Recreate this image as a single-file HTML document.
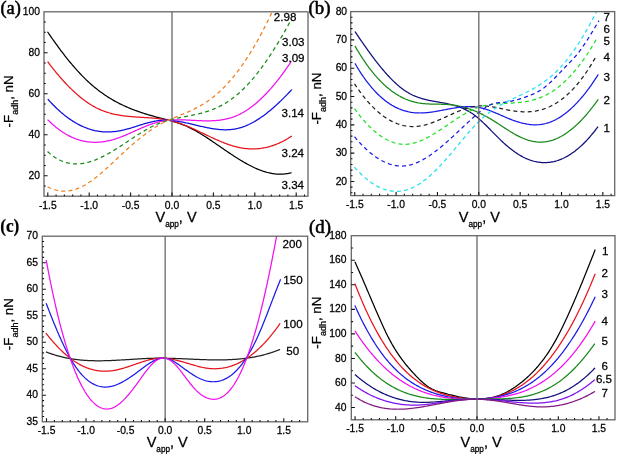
<!DOCTYPE html>
<html><head><meta charset="utf-8"><style>
html,body{margin:0;padding:0;background:#fff;width:617px;height:454px;overflow:hidden}
svg{display:block;will-change:transform}
text{font-family:"Liberation Sans",sans-serif;fill:#000;stroke:#000;stroke-width:0.26px}
.tl{font-size:10.3px}
.cl{font-size:11.6px}
.aty{font-size:13.3px}
.atx{font-size:14.5px}
.sub{font-size:9px}
.subx{font-size:8.2px}
.pl{font-family:"Liberation Serif",serif;font-size:18.5px;stroke-width:0.55px}
</style></head><body>
<svg width="617" height="454" viewBox="0 0 617 454">
<rect width="617" height="454" fill="#fff"/>
<clipPath id="cpa"><rect x="44" y="11.8" width="264" height="184.4"/></clipPath>
<g clip-path="url(#cpa)" fill="none" stroke-width="1.25" stroke-linejoin="round">
<path d="M47.5 31.77 48.5 33.24 49.5 34.69 50.5 36.14 51.5 37.58 52.5 39.00 53.5 40.42 54.5 41.82 55.5 43.22 56.5 44.60 57.5 45.98 58.5 47.34 59.5 48.69 60.5 50.03 61.5 51.35 62.5 52.67 63.5 53.97 64.5 55.26 65.5 56.54 66.5 57.80 67.5 59.05 68.5 60.29 69.5 61.52 70.5 62.73 71.5 63.93 72.5 65.11 73.5 66.28 74.5 67.43 75.5 68.57 76.5 69.70 77.5 70.81 78.5 71.90 79.5 72.98 80.5 74.04 81.5 75.09 82.5 76.12 83.5 77.14 84.5 78.14 85.5 79.12 86.5 80.09 87.5 81.03 88.5 81.97 89.5 82.88 90.5 83.78 91.5 84.66 92.5 85.53 93.5 86.37 94.5 87.21 95.5 88.03 96.5 88.83 97.5 89.62 98.5 90.39 99.5 91.15 100.5 91.89 101.5 92.62 102.5 93.34 103.5 94.04 104.5 94.73 105.5 95.41 106.5 96.07 107.5 96.72 108.5 97.35 109.5 97.98 110.5 98.59 111.5 99.19 112.5 99.77 113.5 100.35 114.5 100.91 115.5 101.47 116.5 102.01 117.5 102.54 118.5 103.06 119.5 103.57 120.5 104.07 121.5 104.56 122.5 105.04 123.5 105.51 124.5 105.97 125.5 106.42 126.5 106.87 127.5 107.30 128.5 107.73 129.5 108.14 130.5 108.55 131.5 108.96 132.5 109.35 133.5 109.74 134.5 110.11 135.5 110.49 136.5 110.85 137.5 111.21 138.5 111.56 139.5 111.91 140.5 112.25 141.5 112.58 142.5 112.91 143.5 113.24 144.5 113.55 145.5 113.87 146.5 114.18 147.5 114.48 148.5 114.78 149.5 115.08 150.5 115.37 151.5 115.66 152.5 115.94 153.5 116.22 154.5 116.50 155.5 116.78 156.5 117.05 157.5 117.32 158.5 117.59 159.5 117.86 160.5 118.12 161.5 118.39 162.5 118.65 163.5 118.91 164.5 119.17 165.5 119.43 166.5 119.69 167.5 119.96 168.5 120.22 169.5 120.49 170.5 120.76 171.5 121.04 172.5 121.32 173.5 121.61 174.5 121.90 175.5 122.21 176.5 122.51 177.5 122.83 178.5 123.16 179.5 123.50 180.5 123.85 181.5 124.21 182.5 124.58 183.5 124.96 184.5 125.36 185.5 125.78 186.5 126.21 187.5 126.65 188.5 127.11 189.5 127.59 190.5 128.08 191.5 128.58 192.5 129.10 193.5 129.63 194.5 130.17 195.5 130.73 196.5 131.30 197.5 131.87 198.5 132.46 199.5 133.06 200.5 133.67 201.5 134.29 202.5 134.91 203.5 135.54 204.5 136.18 205.5 136.83 206.5 137.48 207.5 138.14 208.5 138.80 209.5 139.46 210.5 140.13 211.5 140.81 212.5 141.48 213.5 142.16 214.5 142.85 215.5 143.53 216.5 144.22 217.5 144.90 218.5 145.59 219.5 146.28 220.5 146.97 221.5 147.66 222.5 148.34 223.5 149.03 224.5 149.71 225.5 150.40 226.5 151.08 227.5 151.76 228.5 152.43 229.5 153.11 230.5 153.77 231.5 154.44 232.5 155.10 233.5 155.76 234.5 156.41 235.5 157.05 236.5 157.69 237.5 158.32 238.5 158.95 239.5 159.57 240.5 160.18 241.5 160.78 242.5 161.38 243.5 161.97 244.5 162.54 245.5 163.11 246.5 163.67 247.5 164.22 248.5 164.76 249.5 165.29 250.5 165.80 251.5 166.31 252.5 166.80 253.5 167.28 254.5 167.75 255.5 168.20 256.5 168.64 257.5 169.07 258.5 169.48 259.5 169.88 260.5 170.26 261.5 170.63 262.5 170.98 263.5 171.32 264.5 171.64 265.5 171.94 266.5 172.23 267.5 172.50 268.5 172.75 269.5 172.98 270.5 173.19 271.5 173.38 272.5 173.56 273.5 173.71 274.5 173.84 275.5 173.96 276.5 174.05 277.5 174.12 278.5 174.17 279.5 174.19 280.5 174.20 281.5 174.18 282.5 174.13 283.5 174.07 284.5 173.98 285.5 173.86 286.5 173.72 287.5 173.56 288.5 173.37 289.5 173.15 290.5 172.91 291.5 172.64 291.6 172.61" stroke="#000000"/>
<path d="M47.6 61.63 48.6 62.96 49.6 64.27 50.6 65.57 51.6 66.86 52.6 68.13 53.6 69.39 54.6 70.63 55.6 71.86 56.6 73.07 57.6 74.27 58.6 75.46 59.6 76.62 60.6 77.78 61.6 78.91 62.6 80.03 63.6 81.14 64.6 82.23 65.6 83.30 66.6 84.36 67.6 85.40 68.6 86.43 69.6 87.44 70.6 88.43 71.6 89.41 72.6 90.36 73.6 91.31 74.6 92.23 75.6 93.14 76.6 94.03 77.6 94.90 78.6 95.75 79.6 96.59 80.6 97.41 81.6 98.21 82.6 98.99 83.6 99.75 84.6 100.50 85.6 101.23 86.6 101.94 87.6 102.63 88.6 103.30 89.6 103.95 90.6 104.58 91.6 105.19 92.6 105.79 93.6 106.36 94.6 106.91 95.6 107.45 96.6 107.96 97.6 108.46 98.6 108.93 99.6 109.39 100.6 109.83 101.6 110.25 102.6 110.65 103.6 111.04 104.6 111.41 105.6 111.76 106.6 112.10 107.6 112.42 108.6 112.73 109.6 113.02 110.6 113.30 111.6 113.56 112.6 113.81 113.6 114.05 114.6 114.28 115.6 114.49 116.6 114.69 117.6 114.89 118.6 115.07 119.6 115.24 120.6 115.40 121.6 115.55 122.6 115.70 123.6 115.83 124.6 115.96 125.6 116.08 126.6 116.19 127.6 116.30 128.6 116.40 129.6 116.49 130.6 116.58 131.6 116.67 132.6 116.74 133.6 116.82 134.6 116.89 135.6 116.96 136.6 117.03 137.6 117.09 138.6 117.15 139.6 117.21 140.6 117.27 141.6 117.33 142.6 117.39 143.6 117.45 144.6 117.51 145.6 117.57 146.6 117.63 147.6 117.69 148.6 117.76 149.6 117.83 150.6 117.90 151.6 117.98 152.6 118.06 153.6 118.15 154.6 118.24 155.6 118.34 156.6 118.44 157.6 118.55 158.6 118.66 159.6 118.79 160.6 118.92 161.6 119.06 162.6 119.20 163.6 119.36 164.6 119.53 165.6 119.70 166.6 119.89 167.6 120.09 168.6 120.29 169.6 120.51 170.6 120.74 171.6 120.99 172.6 121.24 173.6 121.51 174.6 121.78 175.6 122.07 176.6 122.36 177.6 122.67 178.6 122.99 179.6 123.32 180.6 123.66 181.6 124.01 182.6 124.37 183.6 124.74 184.6 125.11 185.6 125.50 186.6 125.90 187.6 126.31 188.6 126.73 189.6 127.15 190.6 127.58 191.6 128.03 192.6 128.47 193.6 128.93 194.6 129.38 195.6 129.85 196.6 130.32 197.6 130.79 198.6 131.26 199.6 131.74 200.6 132.22 201.6 132.70 202.6 133.18 203.6 133.66 204.6 134.14 205.6 134.62 206.6 135.10 207.6 135.58 208.6 136.06 209.6 136.53 210.6 137.00 211.6 137.47 212.6 137.93 213.6 138.39 214.6 138.85 215.6 139.30 216.6 139.75 217.6 140.19 218.6 140.62 219.6 141.05 220.6 141.47 221.6 141.89 222.6 142.29 223.6 142.69 224.6 143.08 225.6 143.46 226.6 143.83 227.6 144.19 228.6 144.54 229.6 144.88 230.6 145.21 231.6 145.52 232.6 145.83 233.6 146.12 234.6 146.40 235.6 146.66 236.6 146.91 237.6 147.15 238.6 147.37 239.6 147.58 240.6 147.77 241.6 147.95 242.6 148.11 243.6 148.26 244.6 148.39 245.6 148.51 246.6 148.61 247.6 148.70 248.6 148.77 249.6 148.82 250.6 148.86 251.6 148.89 252.6 148.90 253.6 148.89 254.6 148.86 255.6 148.82 256.6 148.77 257.6 148.70 258.6 148.61 259.6 148.51 260.6 148.38 261.6 148.25 262.6 148.09 263.6 147.92 264.6 147.74 265.6 147.53 266.6 147.31 267.6 147.08 268.6 146.82 269.6 146.55 270.6 146.26 271.6 145.96 272.6 145.64 273.6 145.30 274.6 144.94 275.6 144.56 276.6 144.17 277.6 143.76 278.6 143.34 279.6 142.89 280.6 142.43 281.6 141.95 282.6 141.45 283.6 140.93 284.6 140.40 285.6 139.85 286.6 139.27 287.6 138.68 288.6 138.08 289.6 137.45 290.6 136.81 291.6 136.14 291.8 136.01" stroke="#e8141c"/>
<path d="M47.8 99.14 48.8 100.26 49.8 101.35 50.8 102.43 51.8 103.49 52.8 104.52 53.8 105.54 54.8 106.54 55.8 107.51 56.8 108.47 57.8 109.41 58.8 110.33 59.8 111.22 60.8 112.10 61.8 112.96 62.8 113.80 63.8 114.62 64.8 115.42 65.8 116.20 66.8 116.96 67.8 117.70 68.8 118.43 69.8 119.13 70.8 119.81 71.8 120.48 72.8 121.13 73.8 121.75 74.8 122.36 75.8 122.95 76.8 123.52 77.8 124.07 78.8 124.60 79.8 125.11 80.8 125.60 81.8 126.08 82.8 126.54 83.8 126.97 84.8 127.39 85.8 127.79 86.8 128.17 87.8 128.54 88.8 128.88 89.8 129.21 90.8 129.51 91.8 129.80 92.8 130.07 93.8 130.32 94.8 130.56 95.8 130.77 96.8 130.97 97.8 131.15 98.8 131.31 99.8 131.45 100.8 131.58 101.8 131.68 102.8 131.77 103.8 131.84 104.8 131.90 105.8 131.93 106.8 131.95 107.8 131.95 108.8 131.94 109.8 131.91 110.8 131.86 111.8 131.80 112.8 131.72 113.8 131.63 114.8 131.52 115.8 131.40 116.8 131.26 117.8 131.11 118.8 130.94 119.8 130.77 120.8 130.58 121.8 130.37 122.8 130.15 123.8 129.93 124.8 129.68 125.8 129.43 126.8 129.17 127.8 128.90 128.8 128.61 129.8 128.32 130.8 128.03 131.8 127.73 132.8 127.42 133.8 127.11 134.8 126.79 135.8 126.48 136.8 126.16 137.8 125.84 138.8 125.52 139.8 125.20 140.8 124.88 141.8 124.57 142.8 124.26 143.8 123.96 144.8 123.66 145.8 123.37 146.8 123.08 147.8 122.81 148.8 122.54 149.8 122.28 150.8 122.04 151.8 121.80 152.8 121.58 153.8 121.38 154.8 121.18 155.8 121.01 156.8 120.85 157.8 120.70 158.8 120.58 159.8 120.47 160.8 120.39 161.8 120.32 162.8 120.27 163.8 120.23 164.8 120.21 165.8 120.21 166.8 120.23 167.8 120.26 168.8 120.30 169.8 120.36 170.8 120.43 171.8 120.52 172.8 120.62 173.8 120.73 174.8 120.85 175.8 120.98 176.8 121.12 177.8 121.27 178.8 121.43 179.8 121.60 180.8 121.78 181.8 121.97 182.8 122.16 183.8 122.36 184.8 122.57 185.8 122.78 186.8 122.99 187.8 123.22 188.8 123.44 189.8 123.67 190.8 123.90 191.8 124.14 192.8 124.37 193.8 124.61 194.8 124.85 195.8 125.09 196.8 125.32 197.8 125.56 198.8 125.80 199.8 126.03 200.8 126.27 201.8 126.50 202.8 126.72 203.8 126.94 204.8 127.16 205.8 127.37 206.8 127.58 207.8 127.78 208.8 127.98 209.8 128.17 210.8 128.35 211.8 128.52 212.8 128.68 213.8 128.84 214.8 128.98 215.8 129.11 216.8 129.24 217.8 129.35 218.8 129.45 219.8 129.54 220.8 129.61 221.8 129.67 222.8 129.72 223.8 129.76 224.8 129.77 225.8 129.78 226.8 129.76 227.8 129.73 228.8 129.69 229.8 129.62 230.8 129.54 231.8 129.44 232.8 129.32 233.8 129.18 234.8 129.02 235.8 128.83 236.8 128.63 237.8 128.41 238.8 128.16 239.8 127.89 240.8 127.60 241.8 127.29 242.8 126.95 243.8 126.59 244.8 126.22 245.8 125.82 246.8 125.40 247.8 124.96 248.8 124.51 249.8 124.03 250.8 123.53 251.8 123.01 252.8 122.48 253.8 121.93 254.8 121.35 255.8 120.76 256.8 120.15 257.8 119.53 258.8 118.88 259.8 118.22 260.8 117.55 261.8 116.85 262.8 116.14 263.8 115.42 264.8 114.67 265.8 113.92 266.8 113.14 267.8 112.35 268.8 111.55 269.8 110.73 270.8 109.90 271.8 109.06 272.8 108.20 273.8 107.32 274.8 106.44 275.8 105.54 276.8 104.62 277.8 103.70 278.8 102.76 279.8 101.81 280.8 100.85 281.8 99.88 282.8 98.90 283.8 97.90 284.8 96.90 285.8 95.88 286.8 94.85 287.8 93.82 288.8 92.77 289.8 91.72 290.8 90.65 291.8 89.58 291.8 89.53" stroke="#1010e0"/>
<path d="M47.6 119.57 48.6 120.57 49.6 121.55 50.6 122.51 51.6 123.43 52.6 124.34 53.6 125.22 54.6 126.07 55.6 126.90 56.6 127.71 57.6 128.49 58.6 129.25 59.6 129.99 60.6 130.70 61.6 131.39 62.6 132.06 63.6 132.71 64.6 133.33 65.6 133.93 66.6 134.50 67.6 135.06 68.6 135.59 69.6 136.10 70.6 136.59 71.6 137.06 72.6 137.51 73.6 137.94 74.6 138.34 75.6 138.72 76.6 139.09 77.6 139.43 78.6 139.75 79.6 140.06 80.6 140.34 81.6 140.60 82.6 140.84 83.6 141.07 84.6 141.27 85.6 141.45 86.6 141.62 87.6 141.77 88.6 141.89 89.6 142.00 90.6 142.10 91.6 142.17 92.6 142.22 93.6 142.26 94.6 142.28 95.6 142.28 96.6 142.26 97.6 142.23 98.6 142.18 99.6 142.11 100.6 142.03 101.6 141.93 102.6 141.81 103.6 141.68 104.6 141.53 105.6 141.36 106.6 141.18 107.6 140.98 108.6 140.77 109.6 140.54 110.6 140.30 111.6 140.04 112.6 139.77 113.6 139.48 114.6 139.18 115.6 138.86 116.6 138.53 117.6 138.19 118.6 137.83 119.6 137.47 120.6 137.09 121.6 136.71 122.6 136.31 123.6 135.91 124.6 135.50 125.6 135.08 126.6 134.65 127.6 134.22 128.6 133.79 129.6 133.35 130.6 132.91 131.6 132.46 132.6 132.01 133.6 131.56 134.6 131.11 135.6 130.66 136.6 130.22 137.6 129.77 138.6 129.32 139.6 128.88 140.6 128.44 141.6 128.01 142.6 127.58 143.6 127.15 144.6 126.74 145.6 126.33 146.6 125.92 147.6 125.53 148.6 125.14 149.6 124.77 150.6 124.41 151.6 124.05 152.6 123.71 153.6 123.38 154.6 123.07 155.6 122.77 156.6 122.48 157.6 122.21 158.6 121.96 159.6 121.72 160.6 121.50 161.6 121.30 162.6 121.11 163.6 120.93 164.6 120.78 165.6 120.63 166.6 120.50 167.6 120.39 168.6 120.28 169.6 120.19 170.6 120.11 171.6 120.04 172.6 119.98 173.6 119.94 174.6 119.90 175.6 119.87 176.6 119.85 177.6 119.84 178.6 119.83 179.6 119.84 180.6 119.85 181.6 119.87 182.6 119.89 183.6 119.92 184.6 119.95 185.6 119.98 186.6 120.02 187.6 120.07 188.6 120.11 189.6 120.16 190.6 120.21 191.6 120.26 192.6 120.32 193.6 120.37 194.6 120.42 195.6 120.47 196.6 120.52 197.6 120.57 198.6 120.62 199.6 120.66 200.6 120.70 201.6 120.74 202.6 120.77 203.6 120.80 204.6 120.82 205.6 120.83 206.6 120.84 207.6 120.84 208.6 120.84 209.6 120.83 210.6 120.81 211.6 120.78 212.6 120.74 213.6 120.69 214.6 120.63 215.6 120.56 216.6 120.48 217.6 120.39 218.6 120.28 219.6 120.16 220.6 120.03 221.6 119.88 222.6 119.72 223.6 119.55 224.6 119.36 225.6 119.15 226.6 118.93 227.6 118.69 228.6 118.43 229.6 118.16 230.6 117.87 231.6 117.56 232.6 117.22 233.6 116.87 234.6 116.50 235.6 116.11 236.6 115.69 237.6 115.26 238.6 114.80 239.6 114.32 240.6 113.82 241.6 113.29 242.6 112.74 243.6 112.17 244.6 111.58 245.6 110.97 246.6 110.33 247.6 109.68 248.6 109.00 249.6 108.30 250.6 107.58 251.6 106.83 252.6 106.07 253.6 105.28 254.6 104.48 255.6 103.65 256.6 102.80 257.6 101.93 258.6 101.04 259.6 100.14 260.6 99.20 261.6 98.25 262.6 97.28 263.6 96.29 264.6 95.28 265.6 94.25 266.6 93.20 267.6 92.13 268.6 91.04 269.6 89.93 270.6 88.80 271.6 87.65 272.6 86.49 273.6 85.30 274.6 84.10 275.6 82.87 276.6 81.63 277.6 80.37 278.6 79.09 279.6 77.79 280.6 76.47 281.6 75.13 282.6 73.78 283.6 72.41 284.6 71.02 285.6 69.61 286.6 68.18 287.6 66.74 288.6 65.28 289.6 63.80 290.6 62.30 291.4 61.09" stroke="#f010f0"/>
<path d="M47.6 151.57 48.6 152.48 49.6 153.36 50.6 154.19 51.6 154.99 52.6 155.74 53.6 156.47 54.6 157.15 55.6 157.80 56.6 158.41 57.6 158.99 58.6 159.54 59.6 160.04 60.6 160.52 61.6 160.96 62.6 161.38 63.6 161.75 64.6 162.10 65.6 162.42 66.6 162.70 67.6 162.96 68.6 163.18 69.6 163.38 70.6 163.55 71.6 163.68 72.6 163.80 73.6 163.88 74.6 163.94 75.6 163.97 76.6 163.98 77.6 163.96 78.6 163.91 79.6 163.84 80.6 163.75 81.6 163.63 82.6 163.49 83.6 163.33 84.6 163.15 85.6 162.95 86.6 162.72 87.6 162.47 88.6 162.21 89.6 161.92 90.6 161.62 91.6 161.30 92.6 160.96 93.6 160.60 94.6 160.22 95.6 159.83 96.6 159.42 97.6 159.00 98.6 158.56 99.6 158.11 100.6 157.64 101.6 157.16 102.6 156.67 103.6 156.16 104.6 155.64 105.6 155.11 106.6 154.57 107.6 154.02 108.6 153.46 109.6 152.89 110.6 152.31 111.6 151.72 112.6 151.12 113.6 150.51 114.6 149.90 115.6 149.28 116.6 148.65 117.6 148.02 118.6 147.39 119.6 146.74 120.6 146.10 121.6 145.45 122.6 144.79 123.6 144.14 124.6 143.48 125.6 142.82 126.6 142.16 127.6 141.50 128.6 140.83 129.6 140.17 130.6 139.51 131.6 138.85 132.6 138.19 133.6 137.54 134.6 136.89 135.6 136.24 136.6 135.60 137.6 134.96 138.6 134.32 139.6 133.69 140.6 133.07 141.6 132.46 142.6 131.85 143.6 131.25 144.6 130.66 145.6 130.08 146.6 129.50 147.6 128.94 148.6 128.39 149.6 127.84 150.6 127.31 151.6 126.80 152.6 126.29 153.6 125.80 154.6 125.32 155.6 124.86 156.6 124.41 157.6 123.97 158.6 123.55 159.6 123.15 160.6 122.77 161.6 122.40 162.6 122.04 163.6 121.70 164.6 121.37 165.6 121.06 166.6 120.75 167.6 120.46 168.6 120.18 169.6 119.92 170.6 119.66 171.6 119.41 172.6 119.16 173.6 118.93 174.6 118.70 175.6 118.48 176.6 118.27 177.6 118.06 178.6 117.86 179.6 117.66 180.6 117.46 181.6 117.27 182.6 117.08 183.6 116.89 184.6 116.70 185.6 116.52 186.6 116.33 187.6 116.14 188.6 115.95 189.6 115.76 190.6 115.57 191.6 115.37 192.6 115.17 193.6 114.96 194.6 114.75 195.6 114.53 196.6 114.31 197.6 114.07 198.6 113.84 199.6 113.59 200.6 113.34 201.6 113.08 202.6 112.80 203.6 112.52 204.6 112.23 205.6 111.93 206.6 111.62 207.6 111.30 208.6 110.96 209.6 110.62 210.6 110.26 211.6 109.89 212.6 109.50 213.6 109.10 214.6 108.69 215.6 108.26 216.6 107.82 217.6 107.36 218.6 106.89 219.6 106.40 220.6 105.89 221.6 105.37 222.6 104.83 223.6 104.27 224.6 103.69 225.6 103.09 226.6 102.47 227.6 101.84 228.6 101.18 229.6 100.50 230.6 99.80 231.6 99.08 232.6 98.34 233.6 97.58 234.6 96.79 235.6 95.99 236.6 95.16 237.6 94.31 238.6 93.44 239.6 92.55 240.6 91.64 241.6 90.71 242.6 89.76 243.6 88.78 244.6 87.79 245.6 86.77 246.6 85.73 247.6 84.67 248.6 83.60 249.6 82.49 250.6 81.37 251.6 80.23 252.6 79.07 253.6 77.88 254.6 76.68 255.6 75.45 256.6 74.21 257.6 72.94 258.6 71.65 259.6 70.35 260.6 69.02 261.6 67.67 262.6 66.31 263.6 64.92 264.6 63.52 265.6 62.09 266.6 60.65 267.6 59.19 268.6 57.71 269.6 56.21 270.6 54.69 271.6 53.16 272.6 51.60 273.6 50.03 274.6 48.44 275.6 46.83 276.6 45.21 277.6 43.57 278.6 41.91 279.6 40.23 280.6 38.54 281.6 36.83 282.6 35.11 283.6 33.36 284.6 31.60 285.6 29.83 286.6 28.04 287.6 26.23 288.6 24.41 289.6 22.57 290.6 20.72 291.1 19.79" stroke="#1a8a1a" stroke-dasharray="4 3.2"/>
<path d="M47.6 186.73 48.6 187.26 49.6 187.75 50.6 188.21 51.6 188.63 52.6 189.02 53.6 189.38 54.6 189.70 55.6 189.99 56.6 190.25 57.6 190.47 58.6 190.66 59.6 190.82 60.6 190.95 61.6 191.04 62.6 191.11 63.6 191.14 64.6 191.15 65.6 191.12 66.6 191.06 67.6 190.97 68.6 190.86 69.6 190.71 70.6 190.54 71.6 190.33 72.6 190.10 73.6 189.84 74.6 189.55 75.6 189.24 76.6 188.89 77.6 188.52 78.6 188.13 79.6 187.70 80.6 187.25 81.6 186.78 82.6 186.28 83.6 185.75 84.6 185.20 85.6 184.62 86.6 184.02 87.6 183.40 88.6 182.76 89.6 182.10 90.6 181.41 91.6 180.71 92.6 179.99 93.6 179.25 94.6 178.49 95.6 177.72 96.6 176.93 97.6 176.12 98.6 175.30 99.6 174.47 100.6 173.63 101.6 172.77 102.6 171.90 103.6 171.02 104.6 170.14 105.6 169.24 106.6 168.34 107.6 167.42 108.6 166.51 109.6 165.58 110.6 164.65 111.6 163.72 112.6 162.78 113.6 161.84 114.6 160.90 115.6 159.96 116.6 159.01 117.6 158.07 118.6 157.12 119.6 156.18 120.6 155.25 121.6 154.31 122.6 153.38 123.6 152.45 124.6 151.53 125.6 150.62 126.6 149.71 127.6 148.81 128.6 147.91 129.6 147.02 130.6 146.14 131.6 145.26 132.6 144.40 133.6 143.54 134.6 142.69 135.6 141.85 136.6 141.01 137.6 140.18 138.6 139.37 139.6 138.56 140.6 137.76 141.6 136.97 142.6 136.19 143.6 135.43 144.6 134.67 145.6 133.92 146.6 133.18 147.6 132.45 148.6 131.74 149.6 131.03 150.6 130.34 151.6 129.66 152.6 128.99 153.6 128.34 154.6 127.69 155.6 127.06 156.6 126.44 157.6 125.84 158.6 125.25 159.6 124.67 160.6 124.10 161.6 123.55 162.6 123.02 163.6 122.50 164.6 121.99 165.6 121.50 166.6 121.01 167.6 120.54 168.6 120.08 169.6 119.63 170.6 119.19 171.6 118.75 172.6 118.32 173.6 117.90 174.6 117.49 175.6 117.07 176.6 116.66 177.6 116.25 178.6 115.85 179.6 115.44 180.6 115.04 181.6 114.63 182.6 114.22 183.6 113.81 184.6 113.40 185.6 112.98 186.6 112.55 187.6 112.12 188.6 111.68 189.6 111.23 190.6 110.78 191.6 110.31 192.6 109.84 193.6 109.35 194.6 108.86 195.6 108.35 196.6 107.83 197.6 107.30 198.6 106.76 199.6 106.20 200.6 105.63 201.6 105.05 202.6 104.45 203.6 103.84 204.6 103.21 205.6 102.57 206.6 101.90 207.6 101.23 208.6 100.53 209.6 99.82 210.6 99.08 211.6 98.33 212.6 97.56 213.6 96.77 214.6 95.96 215.6 95.13 216.6 94.28 217.6 93.40 218.6 92.51 219.6 91.59 220.6 90.66 221.6 89.70 222.6 88.72 223.6 87.72 224.6 86.70 225.6 85.66 226.6 84.59 227.6 83.50 228.6 82.40 229.6 81.27 230.6 80.11 231.6 78.94 232.6 77.74 233.6 76.53 234.6 75.29 235.6 74.02 236.6 72.74 237.6 71.43 238.6 70.10 239.6 68.75 240.6 67.38 241.6 65.98 242.6 64.56 243.6 63.12 244.6 61.65 245.6 60.17 246.6 58.66 247.6 57.12 248.6 55.57 249.6 53.98 250.6 52.38 251.6 50.75 252.6 49.10 253.6 47.43 254.6 45.73 255.6 44.00 256.6 42.25 257.6 40.48 258.6 38.68 259.6 36.86 260.6 35.01 261.6 33.14 262.6 31.24 263.6 29.32 264.6 27.37 265.6 25.40 266.6 23.40 267.6 21.37 268.6 19.32 269.6 17.24 270.6 15.14 271.6 13.01 272.6 10.85 273.6 8.66 274.0 7.78" stroke="#f08020" stroke-dasharray="4 3.2"/>
</g>
<clipPath id="cpb"><rect x="350.7" y="11.6" width="264" height="184"/></clipPath>
<g clip-path="url(#cpb)" fill="none" stroke-width="1.25" stroke-linejoin="round">
<path d="M354.9 31.49 355.9 32.97 356.9 34.45 357.9 35.92 358.9 37.39 359.9 38.85 360.9 40.31 361.9 41.76 362.9 43.20 363.9 44.63 364.9 46.06 365.9 47.48 366.9 48.89 367.9 50.28 368.9 51.67 369.9 53.05 370.9 54.42 371.9 55.77 372.9 57.12 373.9 58.45 374.9 59.76 375.9 61.07 376.9 62.36 377.9 63.63 378.9 64.89 379.9 66.14 380.9 67.36 381.9 68.57 382.9 69.77 383.9 70.94 384.9 72.10 385.9 73.24 386.9 74.36 387.9 75.46 388.9 76.54 389.9 77.60 390.9 78.64 391.9 79.66 392.9 80.65 393.9 81.63 394.9 82.57 395.9 83.50 396.9 84.40 397.9 85.28 398.9 86.13 399.9 86.95 400.9 87.75 401.9 88.52 402.9 89.27 403.9 89.99 404.9 90.68 405.9 91.34 406.9 91.97 407.9 92.57 408.9 93.15 409.9 93.70 410.9 94.22 411.9 94.72 412.9 95.20 413.9 95.65 414.9 96.08 415.9 96.49 416.9 96.88 417.9 97.25 418.9 97.60 419.9 97.94 420.9 98.26 421.9 98.56 422.9 98.85 423.9 99.12 424.9 99.38 425.9 99.63 426.9 99.87 427.9 100.09 428.9 100.31 429.9 100.52 430.9 100.72 431.9 100.91 432.9 101.10 433.9 101.28 434.9 101.46 435.9 101.64 436.9 101.81 437.9 101.99 438.9 102.16 439.9 102.33 440.9 102.50 441.9 102.68 442.9 102.85 443.9 103.04 444.9 103.22 445.9 103.42 446.9 103.61 447.9 103.82 448.9 104.04 449.9 104.26 450.9 104.49 451.9 104.74 452.9 105.00 453.9 105.26 454.9 105.55 455.9 105.85 456.9 106.16 457.9 106.49 458.9 106.84 459.9 107.20 460.9 107.59 461.9 107.99 462.9 108.42 463.9 108.86 464.9 109.33 465.9 109.82 466.9 110.34 467.9 110.88 468.9 111.45 469.9 112.05 470.9 112.67 471.9 113.32 472.9 114.01 473.9 114.72 474.9 115.46 475.9 116.24 476.9 117.04 477.9 117.87 478.9 118.73 479.9 119.61 480.9 120.51 481.9 121.43 482.9 122.37 483.9 123.33 484.9 124.30 485.9 125.28 486.9 126.28 487.9 127.28 488.9 128.29 489.9 129.31 490.9 130.33 491.9 131.35 492.9 132.37 493.9 133.40 494.9 134.41 495.9 135.43 496.9 136.43 497.9 137.43 498.9 138.41 499.9 139.39 500.9 140.35 501.9 141.29 502.9 142.22 503.9 143.13 504.9 144.03 505.9 144.91 506.9 145.77 507.9 146.62 508.9 147.45 509.9 148.26 510.9 149.05 511.9 149.83 512.9 150.58 513.9 151.31 514.9 152.03 515.9 152.72 516.9 153.39 517.9 154.04 518.9 154.67 519.9 155.27 520.9 155.85 521.9 156.41 522.9 156.95 523.9 157.46 524.9 157.95 525.9 158.41 526.9 158.85 527.9 159.26 528.9 159.66 529.9 160.02 530.9 160.37 531.9 160.69 532.9 160.98 533.9 161.25 534.9 161.50 535.9 161.72 536.9 161.92 537.9 162.09 538.9 162.24 539.9 162.37 540.9 162.47 541.9 162.55 542.9 162.60 543.9 162.63 544.9 162.63 545.9 162.61 546.9 162.56 547.9 162.49 548.9 162.40 549.9 162.28 550.9 162.13 551.9 161.96 552.9 161.77 553.9 161.55 554.9 161.30 555.9 161.03 556.9 160.74 557.9 160.42 558.9 160.08 559.9 159.71 560.9 159.31 561.9 158.89 562.9 158.45 563.9 157.98 564.9 157.48 565.9 156.96 566.9 156.42 567.9 155.85 568.9 155.25 569.9 154.63 570.9 153.98 571.9 153.31 572.9 152.61 573.9 151.89 574.9 151.14 575.9 150.37 576.9 149.57 577.9 148.74 578.9 147.89 579.9 147.01 580.9 146.11 581.9 145.18 582.9 144.23 583.9 143.25 584.9 142.24 585.9 141.21 586.9 140.15 587.9 139.07 588.9 137.96 589.9 136.82 590.9 135.66 591.9 134.47 592.9 133.26 593.9 132.02 594.9 130.75 595.9 129.46 596.9 128.14 597.9 126.79 598.1 126.52" stroke="#10107a"/>
<path d="M354.9 45.89 355.9 47.63 356.9 49.34 357.9 51.02 358.9 52.67 359.9 54.29 360.9 55.88 361.9 57.44 362.9 58.97 363.9 60.46 364.9 61.93 365.9 63.37 366.9 64.78 367.9 66.16 368.9 67.52 369.9 68.84 370.9 70.13 371.9 71.40 372.9 72.64 373.9 73.85 374.9 75.04 375.9 76.19 376.9 77.32 377.9 78.43 378.9 79.50 379.9 80.55 380.9 81.57 381.9 82.57 382.9 83.54 383.9 84.49 384.9 85.41 385.9 86.30 386.9 87.17 387.9 88.02 388.9 88.84 389.9 89.63 390.9 90.40 391.9 91.15 392.9 91.88 393.9 92.58 394.9 93.25 395.9 93.91 396.9 94.54 397.9 95.14 398.9 95.73 399.9 96.29 400.9 96.83 401.9 97.35 402.9 97.85 403.9 98.32 404.9 98.78 405.9 99.21 406.9 99.62 407.9 100.01 408.9 100.38 409.9 100.73 410.9 101.06 411.9 101.37 412.9 101.66 413.9 101.93 414.9 102.19 415.9 102.42 416.9 102.63 417.9 102.83 418.9 103.00 419.9 103.16 420.9 103.31 421.9 103.44 422.9 103.55 423.9 103.65 424.9 103.74 425.9 103.82 426.9 103.88 427.9 103.94 428.9 103.99 429.9 104.03 430.9 104.06 431.9 104.09 432.9 104.11 433.9 104.13 434.9 104.15 435.9 104.16 436.9 104.18 437.9 104.19 438.9 104.20 439.9 104.22 440.9 104.24 441.9 104.26 442.9 104.29 443.9 104.32 444.9 104.36 445.9 104.41 446.9 104.46 447.9 104.53 448.9 104.60 449.9 104.69 450.9 104.78 451.9 104.90 452.9 105.02 453.9 105.16 454.9 105.31 455.9 105.47 456.9 105.65 457.9 105.84 458.9 106.04 459.9 106.25 460.9 106.48 461.9 106.72 462.9 106.97 463.9 107.24 464.9 107.52 465.9 107.81 466.9 108.12 467.9 108.43 468.9 108.76 469.9 109.10 470.9 109.46 471.9 109.82 472.9 110.20 473.9 110.60 474.9 111.00 475.9 111.42 476.9 111.85 477.9 112.29 478.9 112.74 479.9 113.20 480.9 113.68 481.9 114.17 482.9 114.67 483.9 115.19 484.9 115.71 485.9 116.25 486.9 116.80 487.9 117.36 488.9 117.94 489.9 118.52 490.9 119.12 491.9 119.73 492.9 120.35 493.9 120.97 494.9 121.61 495.9 122.25 496.9 122.89 497.9 123.54 498.9 124.20 499.9 124.85 500.9 125.51 501.9 126.17 502.9 126.83 503.9 127.48 504.9 128.14 505.9 128.78 506.9 129.43 507.9 130.07 508.9 130.70 509.9 131.32 510.9 131.93 511.9 132.54 512.9 133.13 513.9 133.71 514.9 134.28 515.9 134.83 516.9 135.37 517.9 135.89 518.9 136.40 519.9 136.89 520.9 137.35 521.9 137.80 522.9 138.23 523.9 138.64 524.9 139.02 525.9 139.39 526.9 139.73 527.9 140.06 528.9 140.36 529.9 140.64 530.9 140.89 531.9 141.13 532.9 141.33 533.9 141.52 534.9 141.68 535.9 141.82 536.9 141.93 537.9 142.01 538.9 142.07 539.9 142.10 540.9 142.11 541.9 142.09 542.9 142.04 543.9 141.96 544.9 141.86 545.9 141.73 546.9 141.57 547.9 141.38 548.9 141.17 549.9 140.93 550.9 140.66 551.9 140.37 552.9 140.05 553.9 139.70 554.9 139.32 555.9 138.92 556.9 138.50 557.9 138.04 558.9 137.57 559.9 137.06 560.9 136.53 561.9 135.97 562.9 135.39 563.9 134.79 564.9 134.15 565.9 133.50 566.9 132.81 567.9 132.11 568.9 131.37 569.9 130.62 570.9 129.84 571.9 129.03 572.9 128.20 573.9 127.34 574.9 126.47 575.9 125.56 576.9 124.64 577.9 123.69 578.9 122.71 579.9 121.72 580.9 120.69 581.9 119.65 582.9 118.58 583.9 117.49 584.9 116.38 585.9 115.24 586.9 114.09 587.9 112.90 588.9 111.70 589.9 110.47 590.9 109.23 591.9 107.96 592.9 106.66 593.9 105.35 594.9 104.01 595.9 102.66 596.9 101.28 597.9 99.88 598.3 99.31" stroke="#1a8a1a"/>
<path d="M354.9 63.34 355.9 65.05 356.9 66.73 357.9 68.37 358.9 69.98 359.9 71.55 360.9 73.09 361.9 74.59 362.9 76.06 363.9 77.50 364.9 78.90 365.9 80.27 366.9 81.61 367.9 82.91 368.9 84.18 369.9 85.43 370.9 86.63 371.9 87.81 372.9 88.96 373.9 90.07 374.9 91.16 375.9 92.22 376.9 93.24 377.9 94.24 378.9 95.20 379.9 96.14 380.9 97.05 381.9 97.93 382.9 98.78 383.9 99.60 384.9 100.40 385.9 101.17 386.9 101.91 387.9 102.62 388.9 103.31 389.9 103.97 390.9 104.61 391.9 105.22 392.9 105.80 393.9 106.36 394.9 106.90 395.9 107.41 396.9 107.89 397.9 108.35 398.9 108.79 399.9 109.20 400.9 109.60 401.9 109.96 402.9 110.31 403.9 110.63 404.9 110.93 405.9 111.21 406.9 111.47 407.9 111.71 408.9 111.92 409.9 112.12 410.9 112.29 411.9 112.45 412.9 112.58 413.9 112.70 414.9 112.79 415.9 112.87 416.9 112.93 417.9 112.97 418.9 112.99 419.9 113.00 420.9 112.99 421.9 112.97 422.9 112.93 423.9 112.88 424.9 112.82 425.9 112.74 426.9 112.65 427.9 112.55 428.9 112.44 429.9 112.32 430.9 112.19 431.9 112.05 432.9 111.90 433.9 111.75 434.9 111.58 435.9 111.42 436.9 111.24 437.9 111.07 438.9 110.88 439.9 110.70 440.9 110.51 441.9 110.32 442.9 110.13 443.9 109.93 444.9 109.74 445.9 109.54 446.9 109.35 447.9 109.16 448.9 108.97 449.9 108.78 450.9 108.60 451.9 108.42 452.9 108.25 453.9 108.08 454.9 107.91 455.9 107.76 456.9 107.61 457.9 107.47 458.9 107.33 459.9 107.21 460.9 107.10 461.9 106.99 462.9 106.90 463.9 106.82 464.9 106.75 465.9 106.70 466.9 106.66 467.9 106.63 468.9 106.62 469.9 106.62 470.9 106.64 471.9 106.68 472.9 106.73 473.9 106.81 474.9 106.90 475.9 107.01 476.9 107.14 477.9 107.29 478.9 107.46 479.9 107.66 480.9 107.87 481.9 108.11 482.9 108.37 483.9 108.64 484.9 108.94 485.9 109.25 486.9 109.57 487.9 109.91 488.9 110.27 489.9 110.64 490.9 111.01 491.9 111.40 492.9 111.80 493.9 112.21 494.9 112.63 495.9 113.05 496.9 113.48 497.9 113.91 498.9 114.34 499.9 114.78 500.9 115.22 501.9 115.66 502.9 116.09 503.9 116.53 504.9 116.96 505.9 117.39 506.9 117.82 507.9 118.24 508.9 118.65 509.9 119.05 510.9 119.45 511.9 119.83 512.9 120.21 513.9 120.57 514.9 120.92 515.9 121.26 516.9 121.59 517.9 121.91 518.9 122.21 519.9 122.50 520.9 122.77 521.9 123.03 522.9 123.27 523.9 123.50 524.9 123.71 525.9 123.91 526.9 124.09 527.9 124.25 528.9 124.39 529.9 124.51 530.9 124.61 531.9 124.70 532.9 124.76 533.9 124.80 534.9 124.82 535.9 124.82 536.9 124.80 537.9 124.75 538.9 124.68 539.9 124.58 540.9 124.47 541.9 124.32 542.9 124.15 543.9 123.96 544.9 123.74 545.9 123.49 546.9 123.21 547.9 122.91 548.9 122.59 549.9 122.23 550.9 121.85 551.9 121.45 552.9 121.01 553.9 120.55 554.9 120.07 555.9 119.56 556.9 119.02 557.9 118.46 558.9 117.87 559.9 117.25 560.9 116.61 561.9 115.94 562.9 115.25 563.9 114.53 564.9 113.79 565.9 113.02 566.9 112.22 567.9 111.40 568.9 110.55 569.9 109.68 570.9 108.78 571.9 107.86 572.9 106.91 573.9 105.93 574.9 104.93 575.9 103.91 576.9 102.86 577.9 101.78 578.9 100.68 579.9 99.56 580.9 98.40 581.9 97.23 582.9 96.03 583.9 94.80 584.9 93.55 585.9 92.27 586.9 90.97 587.9 89.65 588.9 88.29 589.9 86.92 590.9 85.52 591.9 84.09 592.9 82.64 593.9 81.17 594.9 79.67 595.9 78.15 596.9 76.60 597.9 75.03 598.3 74.39" stroke="#1a1ae8"/>
<path d="M354.5 83.77 355.5 85.29 356.5 86.77 357.5 88.23 358.5 89.66 359.5 91.06 360.5 92.43 361.5 93.77 362.5 95.08 363.5 96.37 364.5 97.62 365.5 98.85 366.5 100.05 367.5 101.22 368.5 102.36 369.5 103.48 370.5 104.56 371.5 105.62 372.5 106.65 373.5 107.65 374.5 108.63 375.5 109.58 376.5 110.50 377.5 111.39 378.5 112.26 379.5 113.10 380.5 113.92 381.5 114.70 382.5 115.46 383.5 116.20 384.5 116.91 385.5 117.59 386.5 118.25 387.5 118.88 388.5 119.48 389.5 120.06 390.5 120.61 391.5 121.14 392.5 121.64 393.5 122.12 394.5 122.57 395.5 123.00 396.5 123.40 397.5 123.78 398.5 124.13 399.5 124.46 400.5 124.77 401.5 125.05 402.5 125.30 403.5 125.54 404.5 125.74 405.5 125.93 406.5 126.09 407.5 126.23 408.5 126.34 409.5 126.43 410.5 126.50 411.5 126.54 412.5 126.56 413.5 126.56 414.5 126.54 415.5 126.49 416.5 126.42 417.5 126.33 418.5 126.22 419.5 126.08 420.5 125.92 421.5 125.74 422.5 125.54 423.5 125.32 424.5 125.08 425.5 124.83 426.5 124.55 427.5 124.26 428.5 123.95 429.5 123.63 430.5 123.29 431.5 122.94 432.5 122.58 433.5 122.20 434.5 121.82 435.5 121.42 436.5 121.01 437.5 120.60 438.5 120.18 439.5 119.74 440.5 119.31 441.5 118.87 442.5 118.42 443.5 117.97 444.5 117.51 445.5 117.06 446.5 116.60 447.5 116.14 448.5 115.68 449.5 115.23 450.5 114.77 451.5 114.32 452.5 113.87 453.5 113.42 454.5 112.98 455.5 112.54 456.5 112.11 457.5 111.69 458.5 111.28 459.5 110.87 460.5 110.48 461.5 110.09 462.5 109.72 463.5 109.36 464.5 109.01 465.5 108.68 466.5 108.35 467.5 108.05 468.5 107.76 469.5 107.49 470.5 107.23 471.5 107.00 472.5 106.78 473.5 106.58 474.5 106.41 475.5 106.25 476.5 106.12 477.5 106.01 478.5 105.93 479.5 105.87 480.5 105.83 481.5 105.82 482.5 105.83 483.5 105.85 484.5 105.90 485.5 105.97 486.5 106.05 487.5 106.15 488.5 106.26 489.5 106.39 490.5 106.53 491.5 106.69 492.5 106.85 493.5 107.03 494.5 107.21 495.5 107.40 496.5 107.60 497.5 107.80 498.5 108.01 499.5 108.22 500.5 108.43 501.5 108.64 502.5 108.86 503.5 109.07 504.5 109.28 505.5 109.49 506.5 109.70 507.5 109.90 508.5 110.09 509.5 110.28 510.5 110.46 511.5 110.63 512.5 110.79 513.5 110.94 514.5 111.08 515.5 111.21 516.5 111.33 517.5 111.43 518.5 111.53 519.5 111.61 520.5 111.68 521.5 111.74 522.5 111.79 523.5 111.82 524.5 111.83 525.5 111.84 526.5 111.83 527.5 111.80 528.5 111.76 529.5 111.70 530.5 111.63 531.5 111.54 532.5 111.43 533.5 111.31 534.5 111.17 535.5 111.01 536.5 110.84 537.5 110.64 538.5 110.43 539.5 110.20 540.5 109.94 541.5 109.67 542.5 109.38 543.5 109.07 544.5 108.73 545.5 108.38 546.5 108.00 547.5 107.60 548.5 107.18 549.5 106.74 550.5 106.27 551.5 105.78 552.5 105.27 553.5 104.73 554.5 104.17 555.5 103.58 556.5 102.97 557.5 102.33 558.5 101.67 559.5 100.99 560.5 100.27 561.5 99.54 562.5 98.77 563.5 97.98 564.5 97.17 565.5 96.32 566.5 95.45 567.5 94.55 568.5 93.63 569.5 92.68 570.5 91.69 571.5 90.69 572.5 89.65 573.5 88.58 574.5 87.48 575.5 86.36 576.5 85.20 577.5 84.02 578.5 82.81 579.5 81.56 580.5 80.28 581.5 78.98 582.5 77.64 583.5 76.27 584.5 74.87 585.5 73.44 586.5 71.98 587.5 70.48 588.5 68.95 589.5 67.39 590.5 65.80 591.5 64.17 592.5 62.51 593.5 60.81 594.5 59.09 595.5 57.32 596.5 55.52" stroke="#202020" stroke-dasharray="4 3.2"/>
<path d="M354.5 108.67 355.5 110.04 356.5 111.39 357.5 112.72 358.5 114.02 359.5 115.29 360.5 116.54 361.5 117.76 362.5 118.96 363.5 120.12 364.5 121.27 365.5 122.38 366.5 123.47 367.5 124.53 368.5 125.57 369.5 126.58 370.5 127.56 371.5 128.51 372.5 129.44 373.5 130.34 374.5 131.21 375.5 132.06 376.5 132.88 377.5 133.67 378.5 134.43 379.5 135.17 380.5 135.87 381.5 136.55 382.5 137.21 383.5 137.83 384.5 138.43 385.5 139.00 386.5 139.54 387.5 140.05 388.5 140.53 389.5 140.99 390.5 141.41 391.5 141.81 392.5 142.18 393.5 142.52 394.5 142.83 395.5 143.11 396.5 143.37 397.5 143.59 398.5 143.79 399.5 143.96 400.5 144.09 401.5 144.20 402.5 144.28 403.5 144.33 404.5 144.35 405.5 144.34 406.5 144.30 407.5 144.23 408.5 144.13 409.5 144.00 410.5 143.84 411.5 143.66 412.5 143.45 413.5 143.21 414.5 142.95 415.5 142.67 416.5 142.36 417.5 142.03 418.5 141.67 419.5 141.29 420.5 140.90 421.5 140.48 422.5 140.05 423.5 139.59 424.5 139.12 425.5 138.63 426.5 138.12 427.5 137.60 428.5 137.06 429.5 136.51 430.5 135.95 431.5 135.37 432.5 134.78 433.5 134.18 434.5 133.57 435.5 132.95 436.5 132.32 437.5 131.68 438.5 131.04 439.5 130.38 440.5 129.72 441.5 129.06 442.5 128.39 443.5 127.72 444.5 127.04 445.5 126.36 446.5 125.68 447.5 125.00 448.5 124.31 449.5 123.63 450.5 122.95 451.5 122.27 452.5 121.59 453.5 120.92 454.5 120.25 455.5 119.59 456.5 118.93 457.5 118.27 458.5 117.63 459.5 116.99 460.5 116.36 461.5 115.74 462.5 115.12 463.5 114.52 464.5 113.93 465.5 113.36 466.5 112.79 467.5 112.24 468.5 111.70 469.5 111.18 470.5 110.67 471.5 110.18 472.5 109.71 473.5 109.26 474.5 108.82 475.5 108.40 476.5 108.00 477.5 107.63 478.5 107.27 479.5 106.94 480.5 106.63 481.5 106.33 482.5 106.06 483.5 105.81 484.5 105.57 485.5 105.36 486.5 105.15 487.5 104.97 488.5 104.80 489.5 104.64 490.5 104.50 491.5 104.36 492.5 104.24 493.5 104.14 494.5 104.04 495.5 103.95 496.5 103.86 497.5 103.79 498.5 103.72 499.5 103.66 500.5 103.61 501.5 103.55 502.5 103.51 503.5 103.46 504.5 103.42 505.5 103.37 506.5 103.33 507.5 103.29 508.5 103.24 509.5 103.20 510.5 103.15 511.5 103.10 512.5 103.04 513.5 102.98 514.5 102.91 515.5 102.84 516.5 102.76 517.5 102.67 518.5 102.57 519.5 102.47 520.5 102.36 521.5 102.24 522.5 102.11 523.5 101.97 524.5 101.82 525.5 101.66 526.5 101.49 527.5 101.30 528.5 101.10 529.5 100.89 530.5 100.67 531.5 100.43 532.5 100.18 533.5 99.91 534.5 99.63 535.5 99.33 536.5 99.01 537.5 98.68 538.5 98.33 539.5 97.96 540.5 97.57 541.5 97.17 542.5 96.74 543.5 96.30 544.5 95.83 545.5 95.34 546.5 94.83 547.5 94.30 548.5 93.75 549.5 93.18 550.5 92.58 551.5 91.96 552.5 91.32 553.5 90.66 554.5 89.97 555.5 89.26 556.5 88.53 557.5 87.77 558.5 86.99 559.5 86.19 560.5 85.37 561.5 84.52 562.5 83.64 563.5 82.75 564.5 81.83 565.5 80.88 566.5 79.91 567.5 78.92 568.5 77.90 569.5 76.86 570.5 75.79 571.5 74.70 572.5 73.59 573.5 72.44 574.5 71.28 575.5 70.08 576.5 68.87 577.5 67.62 578.5 66.35 579.5 65.06 580.5 63.74 581.5 62.39 582.5 61.02 583.5 59.62 584.5 58.19 585.5 56.74 586.5 55.26 587.5 53.76 588.5 52.22 589.5 50.66 590.5 49.08 591.5 47.46 592.5 45.82 593.5 44.15 594.5 42.45 595.5 40.73 596.5 38.97 597.1 37.91" stroke="#20e020" stroke-dasharray="4 3.2"/>
<path d="M354.5 136.77 355.5 137.95 356.5 139.11 357.5 140.24 358.5 141.35 359.5 142.45 360.5 143.51 361.5 144.56 362.5 145.58 363.5 146.58 364.5 147.56 365.5 148.51 366.5 149.45 367.5 150.35 368.5 151.24 369.5 152.09 370.5 152.93 371.5 153.74 372.5 154.53 373.5 155.29 374.5 156.03 375.5 156.74 376.5 157.43 377.5 158.09 378.5 158.73 379.5 159.34 380.5 159.93 381.5 160.49 382.5 161.02 383.5 161.53 384.5 162.01 385.5 162.47 386.5 162.90 387.5 163.30 388.5 163.68 389.5 164.03 390.5 164.35 391.5 164.64 392.5 164.91 393.5 165.14 394.5 165.36 395.5 165.54 396.5 165.69 397.5 165.82 398.5 165.92 399.5 165.99 400.5 166.03 401.5 166.04 402.5 166.02 403.5 165.97 404.5 165.89 405.5 165.79 406.5 165.65 407.5 165.49 408.5 165.30 409.5 165.08 410.5 164.83 411.5 164.56 412.5 164.26 413.5 163.93 414.5 163.58 415.5 163.21 416.5 162.81 417.5 162.39 418.5 161.94 419.5 161.47 420.5 160.99 421.5 160.47 422.5 159.94 423.5 159.39 424.5 158.82 425.5 158.23 426.5 157.62 427.5 156.99 428.5 156.35 429.5 155.68 430.5 155.00 431.5 154.31 432.5 153.60 433.5 152.87 434.5 152.13 435.5 151.37 436.5 150.60 437.5 149.82 438.5 149.02 439.5 148.22 440.5 147.40 441.5 146.57 442.5 145.73 443.5 144.88 444.5 144.02 445.5 143.15 446.5 142.27 447.5 141.39 448.5 140.49 449.5 139.59 450.5 138.69 451.5 137.77 452.5 136.86 453.5 135.93 454.5 135.01 455.5 134.08 456.5 133.14 457.5 132.21 458.5 131.27 459.5 130.33 460.5 129.38 461.5 128.44 462.5 127.50 463.5 126.55 464.5 125.61 465.5 124.67 466.5 123.73 467.5 122.80 468.5 121.86 469.5 120.93 470.5 120.00 471.5 119.08 472.5 118.16 473.5 117.25 474.5 116.35 475.5 115.45 476.5 114.57 477.5 113.70 478.5 112.84 479.5 112.01 480.5 111.19 481.5 110.40 482.5 109.64 483.5 108.90 484.5 108.19 485.5 107.52 486.5 106.88 487.5 106.28 488.5 105.72 489.5 105.20 490.5 104.72 491.5 104.30 492.5 103.92 493.5 103.59 494.5 103.32 495.5 103.10 496.5 102.93 497.5 102.81 498.5 102.72 499.5 102.65 500.5 102.60 501.5 102.55 502.5 102.49 503.5 102.42 504.5 102.32 505.5 102.21 506.5 102.08 507.5 101.93 508.5 101.77 509.5 101.59 510.5 101.39 511.5 101.18 512.5 100.95 513.5 100.71 514.5 100.46 515.5 100.20 516.5 99.92 517.5 99.64 518.5 99.34 519.5 99.04 520.5 98.72 521.5 98.40 522.5 98.07 523.5 97.73 524.5 97.39 525.5 97.04 526.5 96.68 527.5 96.32 528.5 95.95 529.5 95.58 530.5 95.19 531.5 94.78 532.5 94.36 533.5 93.93 534.5 93.47 535.5 92.99 536.5 92.49 537.5 91.96 538.5 91.41 539.5 90.82 540.5 90.21 541.5 89.56 542.5 88.87 543.5 88.15 544.5 87.40 545.5 86.61 546.5 85.78 547.5 84.93 548.5 84.05 549.5 83.15 550.5 82.22 551.5 81.27 552.5 80.29 553.5 79.31 554.5 78.30 555.5 77.28 556.5 76.26 557.5 75.22 558.5 74.17 559.5 73.12 560.5 72.06 561.5 71.00 562.5 69.95 563.5 68.89 564.5 67.84 565.5 66.79 566.5 65.76 567.5 64.73 568.5 63.71 569.5 62.69 570.5 61.67 571.5 60.63 572.5 59.58 573.5 58.50 574.5 57.40 575.5 56.26 576.5 55.08 577.5 53.86 578.5 52.59 579.5 51.29 580.5 49.94 581.5 48.56 582.5 47.14 583.5 45.69 584.5 44.21 585.5 42.70 586.5 41.17 587.5 39.61 588.5 38.03 589.5 36.43 590.5 34.81 591.5 33.17 592.5 31.52 593.5 29.87 594.5 28.20 595.5 26.52 596.5 24.84 597.5 23.16 598.5 21.47 599.0 20.63" stroke="#1a1ae8" stroke-dasharray="4 3.2"/>
<path d="M354.5 167.17 355.5 168.30 356.5 169.41 357.5 170.49 358.5 171.54 359.5 172.56 360.5 173.56 361.5 174.53 362.5 175.47 363.5 176.39 364.5 177.28 365.5 178.14 366.5 178.98 367.5 179.79 368.5 180.57 369.5 181.33 370.5 182.05 371.5 182.76 372.5 183.43 373.5 184.07 374.5 184.69 375.5 185.29 376.5 185.85 377.5 186.39 378.5 186.90 379.5 187.38 380.5 187.83 381.5 188.26 382.5 188.66 383.5 189.03 384.5 189.38 385.5 189.69 386.5 189.98 387.5 190.25 388.5 190.48 389.5 190.69 390.5 190.86 391.5 191.02 392.5 191.14 393.5 191.23 394.5 191.30 395.5 191.34 396.5 191.35 397.5 191.34 398.5 191.29 399.5 191.22 400.5 191.12 401.5 190.99 402.5 190.83 403.5 190.65 404.5 190.44 405.5 190.19 406.5 189.93 407.5 189.63 408.5 189.30 409.5 188.95 410.5 188.57 411.5 188.15 412.5 187.71 413.5 187.25 414.5 186.75 415.5 186.23 416.5 185.67 417.5 185.09 418.5 184.49 419.5 183.85 420.5 183.19 421.5 182.51 422.5 181.80 423.5 181.06 424.5 180.30 425.5 179.52 426.5 178.72 427.5 177.89 428.5 177.05 429.5 176.18 430.5 175.29 431.5 174.38 432.5 173.45 433.5 172.51 434.5 171.54 435.5 170.56 436.5 169.56 437.5 168.55 438.5 167.52 439.5 166.47 440.5 165.41 441.5 164.33 442.5 163.24 443.5 162.14 444.5 161.03 445.5 159.90 446.5 158.76 447.5 157.61 448.5 156.45 449.5 155.28 450.5 154.10 451.5 152.92 452.5 151.73 453.5 150.53 454.5 149.34 455.5 148.13 456.5 146.93 457.5 145.72 458.5 144.52 459.5 143.31 460.5 142.11 461.5 140.91 462.5 139.71 463.5 138.52 464.5 137.33 465.5 136.15 466.5 134.98 467.5 133.82 468.5 132.67 469.5 131.53 470.5 130.40 471.5 129.28 472.5 128.18 473.5 127.09 474.5 126.02 475.5 124.96 476.5 123.93 477.5 122.91 478.5 121.91 479.5 120.93 480.5 119.98 481.5 119.04 482.5 118.13 483.5 117.23 484.5 116.36 485.5 115.50 486.5 114.67 487.5 113.86 488.5 113.07 489.5 112.30 490.5 111.55 491.5 110.82 492.5 110.11 493.5 109.42 494.5 108.75 495.5 108.10 496.5 107.47 497.5 106.85 498.5 106.25 499.5 105.66 500.5 105.09 501.5 104.53 502.5 103.98 503.5 103.45 504.5 102.92 505.5 102.41 506.5 101.90 507.5 101.40 508.5 100.91 509.5 100.42 510.5 99.94 511.5 99.46 512.5 98.98 513.5 98.51 514.5 98.04 515.5 97.57 516.5 97.10 517.5 96.63 518.5 96.16 519.5 95.69 520.5 95.22 521.5 94.74 522.5 94.26 523.5 93.78 524.5 93.29 525.5 92.80 526.5 92.30 527.5 91.79 528.5 91.28 529.5 90.76 530.5 90.23 531.5 89.69 532.5 89.14 533.5 88.59 534.5 88.02 535.5 87.44 536.5 86.85 537.5 86.24 538.5 85.62 539.5 84.99 540.5 84.34 541.5 83.68 542.5 83.00 543.5 82.31 544.5 81.59 545.5 80.86 546.5 80.11 547.5 79.35 548.5 78.56 549.5 77.75 550.5 76.92 551.5 76.07 552.5 75.20 553.5 74.30 554.5 73.38 555.5 72.43 556.5 71.46 557.5 70.47 558.5 69.45 559.5 68.40 560.5 67.33 561.5 66.23 562.5 65.11 563.5 63.95 564.5 62.78 565.5 61.57 566.5 60.35 567.5 59.09 568.5 57.81 569.5 56.51 570.5 55.17 571.5 53.82 572.5 52.43 573.5 51.02 574.5 49.59 575.5 48.13 576.5 46.64 577.5 45.13 578.5 43.59 579.5 42.03 580.5 40.44 581.5 38.82 582.5 37.18 583.5 35.52 584.5 33.82 585.5 32.11 586.5 30.36 587.5 28.60 588.5 26.80 589.5 24.98 590.5 23.14 591.5 21.27 592.5 19.37 593.5 17.45 594.5 15.50 595.5 13.53 596.5 11.53 597.5 9.51 598.0 8.49" stroke="#20e0f0" stroke-dasharray="4 3.2"/>
</g>
<clipPath id="cpc"><rect x="42.3" y="236.2" width="265.4" height="185.6"/></clipPath>
<g clip-path="url(#cpc)" fill="none" stroke-width="1.25" stroke-linejoin="round">
<path d="M45.9 351.82 46.9 352.21 47.9 352.60 48.9 352.98 49.9 353.34 50.9 353.69 51.9 354.04 52.9 354.37 53.9 354.69 54.9 355.01 55.9 355.31 56.9 355.60 57.9 355.88 58.9 356.16 59.9 356.42 60.9 356.68 61.9 356.92 62.9 357.16 63.9 357.39 64.9 357.61 65.9 357.82 66.9 358.02 67.9 358.21 68.9 358.40 69.9 358.57 70.9 358.74 71.9 358.90 72.9 359.06 73.9 359.20 74.9 359.34 75.9 359.47 76.9 359.60 77.9 359.71 78.9 359.82 79.9 359.93 80.9 360.02 81.9 360.12 82.9 360.20 83.9 360.28 84.9 360.35 85.9 360.41 86.9 360.47 87.9 360.53 88.9 360.58 89.9 360.62 90.9 360.66 91.9 360.69 92.9 360.72 93.9 360.74 94.9 360.76 95.9 360.77 96.9 360.78 97.9 360.79 98.9 360.79 99.9 360.78 100.9 360.78 101.9 360.76 102.9 360.75 103.9 360.73 104.9 360.71 105.9 360.68 106.9 360.66 107.9 360.62 108.9 360.59 109.9 360.55 110.9 360.51 111.9 360.47 112.9 360.43 113.9 360.38 114.9 360.33 115.9 360.28 116.9 360.23 117.9 360.18 118.9 360.12 119.9 360.06 120.9 360.00 121.9 359.95 122.9 359.89 123.9 359.82 124.9 359.76 125.9 359.70 126.9 359.64 127.9 359.57 128.9 359.51 129.9 359.45 130.9 359.38 131.9 359.32 132.9 359.26 133.9 359.20 134.9 359.13 135.9 359.07 136.9 359.01 137.9 358.95 138.9 358.90 139.9 358.84 140.9 358.79 141.9 358.73 142.9 358.68 143.9 358.63 144.9 358.58 145.9 358.54 146.9 358.49 147.9 358.45 148.9 358.41 149.9 358.38 150.9 358.34 151.9 358.31 152.9 358.29 153.9 358.26 154.9 358.24 155.9 358.22 156.9 358.21 157.9 358.20 158.9 358.19 159.9 358.19 160.9 358.19 161.9 358.19 162.9 358.20 163.9 358.21 164.9 358.22 165.9 358.23 166.9 358.25 167.9 358.27 168.9 358.29 169.9 358.31 170.9 358.34 171.9 358.37 172.9 358.40 173.9 358.43 174.9 358.46 175.9 358.50 176.9 358.53 177.9 358.57 178.9 358.61 179.9 358.65 180.9 358.69 181.9 358.73 182.9 358.77 183.9 358.82 184.9 358.86 185.9 358.90 186.9 358.95 187.9 358.99 188.9 359.04 189.9 359.08 190.9 359.13 191.9 359.17 192.9 359.22 193.9 359.26 194.9 359.31 195.9 359.35 196.9 359.39 197.9 359.43 198.9 359.47 199.9 359.51 200.9 359.55 201.9 359.59 202.9 359.62 203.9 359.66 204.9 359.69 205.9 359.72 206.9 359.75 207.9 359.78 208.9 359.80 209.9 359.82 210.9 359.84 211.9 359.86 212.9 359.88 213.9 359.89 214.9 359.90 215.9 359.91 216.9 359.91 217.9 359.91 218.9 359.91 219.9 359.91 220.9 359.90 221.9 359.89 222.9 359.87 223.9 359.85 224.9 359.83 225.9 359.80 226.9 359.77 227.9 359.74 228.9 359.70 229.9 359.65 230.9 359.60 231.9 359.55 232.9 359.49 233.9 359.43 234.9 359.36 235.9 359.29 236.9 359.21 237.9 359.13 238.9 359.04 239.9 358.95 240.9 358.85 241.9 358.75 242.9 358.64 243.9 358.52 244.9 358.40 245.9 358.27 246.9 358.13 247.9 357.99 248.9 357.85 249.9 357.69 250.9 357.53 251.9 357.36 252.9 357.19 253.9 357.01 254.9 356.82 255.9 356.62 256.9 356.42 257.9 356.21 258.9 355.99 259.9 355.77 260.9 355.53 261.9 355.29 262.9 355.04 263.9 354.78 264.9 354.52 265.9 354.24 266.9 353.96 267.9 353.67 268.9 353.37 269.9 353.06 270.9 352.75 271.9 352.42 272.9 352.08 273.9 351.74 274.9 351.39 275.9 351.02 276.9 350.65 277.9 350.27 278.9 349.88 279.9 349.47 280.0 349.43" stroke="#202020"/>
<path d="M45.9 333.04 46.9 334.32 47.9 335.59 48.9 336.84 49.9 338.06 50.9 339.26 51.9 340.44 52.9 341.60 53.9 342.74 54.9 343.86 55.9 344.95 56.9 346.02 57.9 347.07 58.9 348.10 59.9 349.11 60.9 350.10 61.9 351.06 62.9 352.00 63.9 352.92 64.9 353.82 65.9 354.69 66.9 355.55 67.9 356.38 68.9 357.18 69.9 357.97 70.9 358.73 71.9 359.47 72.9 360.19 73.9 360.89 74.9 361.56 75.9 362.21 76.9 362.84 77.9 363.44 78.9 364.02 79.9 364.58 80.9 365.12 81.9 365.63 82.9 366.12 83.9 366.58 84.9 367.02 85.9 367.44 86.9 367.84 87.9 368.21 88.9 368.56 89.9 368.89 90.9 369.19 91.9 369.47 92.9 369.73 93.9 369.97 94.9 370.19 95.9 370.38 96.9 370.56 97.9 370.71 98.9 370.84 99.9 370.95 100.9 371.04 101.9 371.11 102.9 371.16 103.9 371.19 104.9 371.21 105.9 371.20 106.9 371.17 107.9 371.13 108.9 371.06 109.9 370.98 110.9 370.88 111.9 370.76 112.9 370.62 113.9 370.47 114.9 370.30 115.9 370.11 116.9 369.90 117.9 369.68 118.9 369.44 119.9 369.19 120.9 368.93 121.9 368.65 122.9 368.37 123.9 368.07 124.9 367.76 125.9 367.45 126.9 367.12 127.9 366.79 128.9 366.46 129.9 366.12 130.9 365.77 131.9 365.42 132.9 365.07 133.9 364.72 134.9 364.37 135.9 364.02 136.9 363.67 137.9 363.33 138.9 362.98 139.9 362.65 140.9 362.31 141.9 361.99 142.9 361.67 143.9 361.35 144.9 361.05 145.9 360.76 146.9 360.48 147.9 360.21 148.9 359.95 149.9 359.71 150.9 359.48 151.9 359.27 152.9 359.07 153.9 358.89 154.9 358.73 155.9 358.58 156.9 358.46 157.9 358.36 158.9 358.28 159.9 358.23 160.9 358.19 161.9 358.19 162.9 358.20 163.9 358.24 164.9 358.29 165.9 358.37 166.9 358.47 167.9 358.58 168.9 358.71 169.9 358.86 170.9 359.03 171.9 359.21 172.9 359.40 173.9 359.61 174.9 359.83 175.9 360.06 176.9 360.30 177.9 360.55 178.9 360.81 179.9 361.08 180.9 361.36 181.9 361.64 182.9 361.93 183.9 362.22 184.9 362.51 185.9 362.81 186.9 363.11 187.9 363.41 188.9 363.71 189.9 364.01 190.9 364.31 191.9 364.61 192.9 364.90 193.9 365.19 194.9 365.47 195.9 365.75 196.9 366.02 197.9 366.29 198.9 366.54 199.9 366.79 200.9 367.02 201.9 367.24 202.9 367.46 203.9 367.65 204.9 367.84 205.9 368.01 206.9 368.16 207.9 368.30 208.9 368.42 209.9 368.53 210.9 368.61 211.9 368.68 212.9 368.72 213.9 368.75 214.9 368.75 215.9 368.74 216.9 368.71 217.9 368.66 218.9 368.58 219.9 368.49 220.9 368.38 221.9 368.25 222.9 368.10 223.9 367.93 224.9 367.74 225.9 367.52 226.9 367.29 227.9 367.04 228.9 366.76 229.9 366.47 230.9 366.16 231.9 365.82 232.9 365.46 233.9 365.09 234.9 364.69 235.9 364.27 236.9 363.83 237.9 363.36 238.9 362.88 239.9 362.38 240.9 361.85 241.9 361.30 242.9 360.73 243.9 360.14 244.9 359.53 245.9 358.89 246.9 358.24 247.9 357.56 248.9 356.86 249.9 356.13 250.9 355.39 251.9 354.62 252.9 353.83 253.9 353.02 254.9 352.18 255.9 351.32 256.9 350.44 257.9 349.54 258.9 348.61 259.9 347.66 260.9 346.69 261.9 345.69 262.9 344.67 263.9 343.63 264.9 342.56 265.9 341.47 266.9 340.36 267.9 339.22 268.9 338.06 269.9 336.88 270.9 335.67 271.9 334.44 272.9 333.18 273.9 331.90 274.9 330.59 275.9 329.27 276.9 327.91 277.9 326.53 278.9 325.13 279.9 323.70 280.2 323.27" stroke="#e8141c"/>
<path d="M46.2 303.32 47.2 305.94 48.2 308.55 49.2 311.13 50.2 313.69 51.2 316.23 52.2 318.74 53.2 321.22 54.2 323.68 55.2 326.11 56.2 328.51 57.2 330.88 58.2 333.21 59.2 335.51 60.2 337.77 61.2 340.00 62.2 342.19 63.2 344.33 64.2 346.43 65.2 348.49 66.2 350.50 67.2 352.46 68.2 354.37 69.2 356.22 70.2 358.02 71.2 359.76 72.2 361.45 73.2 363.07 74.2 364.64 75.2 366.14 76.2 367.59 77.2 368.98 78.2 370.31 79.2 371.59 80.2 372.81 81.2 373.98 82.2 375.09 83.2 376.15 84.2 377.16 85.2 378.11 86.2 379.01 87.2 379.86 88.2 380.66 89.2 381.41 90.2 382.11 91.2 382.76 92.2 383.36 93.2 383.91 94.2 384.42 95.2 384.88 96.2 385.29 97.2 385.66 98.2 385.98 99.2 386.26 100.2 386.49 101.2 386.68 102.2 386.83 103.2 386.94 104.2 387.01 105.2 387.03 106.2 387.02 107.2 386.96 108.2 386.87 109.2 386.74 110.2 386.57 111.2 386.36 112.2 386.13 113.2 385.86 114.2 385.55 115.2 385.22 116.2 384.86 117.2 384.46 118.2 384.04 119.2 383.60 120.2 383.12 121.2 382.63 122.2 382.11 123.2 381.56 124.2 381.00 125.2 380.42 126.2 379.82 127.2 379.20 128.2 378.56 129.2 377.91 130.2 377.24 131.2 376.56 132.2 375.87 133.2 375.16 134.2 374.45 135.2 373.72 136.2 372.99 137.2 372.25 138.2 371.51 139.2 370.76 140.2 370.01 141.2 369.26 142.2 368.50 143.2 367.76 144.2 367.01 145.2 366.28 146.2 365.56 147.2 364.86 148.2 364.17 149.2 363.51 150.2 362.87 151.2 362.25 152.2 361.67 153.2 361.12 154.2 360.61 155.2 360.13 156.2 359.70 157.2 359.31 158.2 358.97 159.2 358.68 160.2 358.44 161.2 358.26 162.2 358.14 163.2 358.08 164.2 358.09 165.2 358.17 166.2 358.31 167.2 358.53 168.2 358.82 169.2 359.17 170.2 359.57 171.2 360.03 172.2 360.54 173.2 361.09 174.2 361.68 175.2 362.31 176.2 362.96 177.2 363.64 178.2 364.34 179.2 365.05 180.2 365.77 181.2 366.50 182.2 367.23 183.2 367.96 184.2 368.69 185.2 369.41 186.2 370.13 187.2 370.84 188.2 371.55 189.2 372.24 190.2 372.93 191.2 373.60 192.2 374.25 193.2 374.89 194.2 375.50 195.2 376.10 196.2 376.67 197.2 377.22 198.2 377.74 199.2 378.23 200.2 378.70 201.2 379.13 202.2 379.53 203.2 379.90 204.2 380.24 205.2 380.55 206.2 380.82 207.2 381.06 208.2 381.26 209.2 381.43 210.2 381.56 211.2 381.66 212.2 381.72 213.2 381.75 214.2 381.73 215.2 381.68 216.2 381.59 217.2 381.46 218.2 381.29 219.2 381.08 220.2 380.82 221.2 380.53 222.2 380.20 223.2 379.82 224.2 379.40 225.2 378.93 226.2 378.42 227.2 377.87 228.2 377.27 229.2 376.62 230.2 375.93 231.2 375.19 232.2 374.41 233.2 373.57 234.2 372.69 235.2 371.76 236.2 370.78 237.2 369.75 238.2 368.66 239.2 367.53 240.2 366.35 241.2 365.11 242.2 363.82 243.2 362.48 244.2 361.08 245.2 359.63 246.2 358.13 247.2 356.57 248.2 354.95 249.2 353.28 250.2 351.55 251.2 349.76 252.2 347.92 253.2 346.01 254.2 344.05 255.2 342.03 256.2 339.95 257.2 337.80 258.2 335.60 259.2 333.34 260.2 331.02 261.2 328.65 262.2 326.24 263.2 323.79 264.2 321.30 265.2 318.78 266.2 316.23 267.2 313.66 268.2 311.07 269.2 308.47 270.2 305.86 271.2 303.25 272.2 300.64 273.2 298.03 274.2 295.43 275.2 292.85 276.2 290.28 277.2 287.74 278.2 285.23 279.2 282.75 280.2 280.31 280.6 279.34" stroke="#1a1ae8"/>
<path d="M46.2 260.01 47.2 265.39 48.2 270.64 49.2 275.78 50.2 280.80 51.2 285.71 52.2 290.49 53.2 295.16 54.2 299.72 55.2 304.17 56.2 308.51 57.2 312.74 58.2 316.85 59.2 320.87 60.2 324.78 61.2 328.58 62.2 332.28 63.2 335.88 64.2 339.38 65.2 342.79 66.2 346.09 67.2 349.30 68.2 352.42 69.2 355.44 70.2 358.37 71.2 361.21 72.2 363.96 73.2 366.62 74.2 369.20 75.2 371.69 76.2 374.10 77.2 376.42 78.2 378.65 79.2 380.80 80.2 382.87 81.2 384.85 82.2 386.75 83.2 388.57 84.2 390.31 85.2 391.97 86.2 393.54 87.2 395.04 88.2 396.46 89.2 397.80 90.2 399.06 91.2 400.24 92.2 401.34 93.2 402.37 94.2 403.32 95.2 404.20 96.2 405.00 97.2 405.73 98.2 406.38 99.2 406.96 100.2 407.47 101.2 407.90 102.2 408.26 103.2 408.55 104.2 408.77 105.2 408.92 106.2 409.00 107.2 409.01 108.2 408.96 109.2 408.83 110.2 408.64 111.2 408.37 112.2 408.05 113.2 407.65 114.2 407.20 115.2 406.67 116.2 406.09 117.2 405.44 118.2 404.73 119.2 403.97 120.2 403.16 121.2 402.29 122.2 401.37 123.2 400.41 124.2 399.41 125.2 398.36 126.2 397.27 127.2 396.15 128.2 394.99 129.2 393.80 130.2 392.58 131.2 391.33 132.2 390.05 133.2 388.76 134.2 387.44 135.2 386.11 136.2 384.76 137.2 383.39 138.2 382.02 139.2 380.64 140.2 379.25 141.2 377.86 142.2 376.47 143.2 375.09 144.2 373.72 145.2 372.38 146.2 371.06 147.2 369.77 148.2 368.52 149.2 367.32 150.2 366.17 151.2 365.07 152.2 364.03 153.2 363.06 154.2 362.16 155.2 361.35 156.2 360.62 157.2 359.97 158.2 359.42 159.2 358.97 160.2 358.61 161.2 358.34 162.2 358.17 163.2 358.09 164.2 358.12 165.2 358.24 166.2 358.46 167.2 358.78 168.2 359.19 169.2 359.71 170.2 360.33 171.2 361.03 172.2 361.81 173.2 362.68 174.2 363.61 175.2 364.61 176.2 365.67 177.2 366.79 178.2 367.95 179.2 369.16 180.2 370.40 181.2 371.67 182.2 372.97 183.2 374.29 184.2 375.62 185.2 376.95 186.2 378.29 187.2 379.61 188.2 380.93 189.2 382.23 190.2 383.50 191.2 384.75 192.2 385.96 193.2 387.13 194.2 388.25 195.2 389.33 196.2 390.36 197.2 391.33 198.2 392.25 199.2 393.11 200.2 393.92 201.2 394.68 202.2 395.38 203.2 396.02 204.2 396.61 205.2 397.14 206.2 397.61 207.2 398.02 208.2 398.38 209.2 398.68 210.2 398.92 211.2 399.10 212.2 399.21 213.2 399.27 214.2 399.26 215.2 399.19 216.2 399.06 217.2 398.86 218.2 398.59 219.2 398.25 220.2 397.85 221.2 397.37 222.2 396.82 223.2 396.20 224.2 395.51 225.2 394.74 226.2 393.89 227.2 392.97 228.2 391.97 229.2 390.89 230.2 389.73 231.2 388.49 232.2 387.17 233.2 385.76 234.2 384.27 235.2 382.70 236.2 381.03 237.2 379.28 238.2 377.44 239.2 375.52 240.2 373.50 241.2 371.38 242.2 369.18 243.2 366.88 244.2 364.49 245.2 362.01 246.2 359.43 247.2 356.76 248.2 354.00 249.2 351.14 250.2 348.18 251.2 345.13 252.2 341.99 253.2 338.75 254.2 335.42 255.2 331.98 256.2 328.46 257.2 324.83 258.2 321.11 259.2 317.30 260.2 313.38 261.2 309.37 262.2 305.26 263.2 301.06 264.2 296.76 265.2 292.37 266.2 287.88 267.2 283.30 268.2 278.63 269.2 273.88 270.2 269.03 271.2 264.10 272.2 259.08 273.2 253.97 274.2 248.78 275.2 243.51 276.2 238.15 277.2 232.71 278.0 228.31" stroke="#f010f0"/>
</g>
<clipPath id="cpd"><rect x="351.3" y="235.7" width="263.7" height="184.1"/></clipPath>
<g clip-path="url(#cpd)" fill="none" stroke-width="1.25" stroke-linejoin="round">
<path d="M354.9 261.85 355.9 264.03 356.9 266.23 357.9 268.46 358.9 270.70 359.9 272.97 360.9 275.25 361.9 277.54 362.9 279.85 363.9 282.17 364.9 284.50 365.9 286.83 366.9 289.18 367.9 291.52 368.9 293.87 369.9 296.22 370.9 298.57 371.9 300.91 372.9 303.25 373.9 305.59 374.9 307.91 375.9 310.23 376.9 312.53 377.9 314.83 378.9 317.10 379.9 319.36 380.9 321.60 381.9 323.82 382.9 326.01 383.9 328.18 384.9 330.31 385.9 332.40 386.9 334.45 387.9 336.45 388.9 338.40 389.9 340.30 390.9 342.14 391.9 343.93 392.9 345.67 393.9 347.36 394.9 349.00 395.9 350.60 396.9 352.15 397.9 353.66 398.9 355.14 399.9 356.58 400.9 357.98 401.9 359.35 402.9 360.68 403.9 361.99 404.9 363.27 405.9 364.52 406.9 365.74 407.9 366.94 408.9 368.11 409.9 369.26 410.9 370.40 411.9 371.51 412.9 372.61 413.9 373.69 414.9 374.75 415.9 375.81 416.9 376.84 417.9 377.86 418.9 378.86 419.9 379.84 420.9 380.79 421.9 381.71 422.9 382.60 423.9 383.46 424.9 384.29 425.9 385.08 426.9 385.83 427.9 386.54 428.9 387.21 429.9 387.83 430.9 388.40 431.9 388.94 432.9 389.43 433.9 389.89 434.9 390.32 435.9 390.72 436.9 391.09 437.9 391.44 438.9 391.76 439.9 392.07 440.9 392.37 441.9 392.65 442.9 392.92 443.9 393.19 444.9 393.45 445.9 393.71 446.9 393.97 447.9 394.23 448.9 394.49 449.9 394.74 450.9 394.98 451.9 395.23 452.9 395.47 453.9 395.70 454.9 395.93 455.9 396.16 456.9 396.38 457.9 396.59 458.9 396.80 459.9 397.00 460.9 397.19 461.9 397.38 462.9 397.55 463.9 397.72 464.9 397.88 465.9 398.03 466.9 398.17 467.9 398.30 468.9 398.42 469.9 398.53 470.9 398.62 471.9 398.71 472.9 398.78 473.9 398.84 474.9 398.89 475.9 398.93 476.9 398.95 477.9 398.96 478.9 398.95 479.9 398.94 480.9 398.90 481.9 398.86 482.9 398.79 483.9 398.71 484.9 398.62 485.9 398.51 486.9 398.39 487.9 398.24 488.9 398.08 489.9 397.91 490.9 397.71 491.9 397.50 492.9 397.27 493.9 397.03 494.9 396.76 495.9 396.47 496.9 396.17 497.9 395.84 498.9 395.50 499.9 395.13 500.9 394.75 501.9 394.34 502.9 393.91 503.9 393.46 504.9 392.99 505.9 392.50 506.9 391.98 507.9 391.45 508.9 390.89 509.9 390.32 510.9 389.72 511.9 389.11 512.9 388.47 513.9 387.82 514.9 387.16 515.9 386.47 516.9 385.77 517.9 385.05 518.9 384.31 519.9 383.55 520.9 382.78 521.9 381.98 522.9 381.17 523.9 380.33 524.9 379.48 525.9 378.61 526.9 377.71 527.9 376.80 528.9 375.86 529.9 374.90 530.9 373.92 531.9 372.92 532.9 371.89 533.9 370.83 534.9 369.75 535.9 368.65 536.9 367.52 537.9 366.36 538.9 365.17 539.9 363.95 540.9 362.70 541.9 361.42 542.9 360.11 543.9 358.77 544.9 357.40 545.9 355.99 546.9 354.54 547.9 353.06 548.9 351.55 549.9 349.99 550.9 348.40 551.9 346.77 552.9 345.10 553.9 343.39 554.9 341.64 555.9 339.85 556.9 338.01 557.9 336.13 558.9 334.21 559.9 332.26 560.9 330.27 561.9 328.25 562.9 326.19 563.9 324.10 564.9 321.99 565.9 319.85 566.9 317.68 567.9 315.48 568.9 313.27 569.9 311.03 570.9 308.78 571.9 306.50 572.9 304.21 573.9 301.90 574.9 299.58 575.9 297.24 576.9 294.88 577.9 292.51 578.9 290.13 579.9 287.73 580.9 285.32 581.9 282.89 582.9 280.45 583.9 278.00 584.9 275.54 585.9 273.07 586.9 270.59 587.9 268.09 588.9 265.59 589.9 263.07 590.9 260.55 591.9 258.02 592.9 255.47 593.9 252.92 594.9 250.37 595.2 249.60" stroke="#000000"/>
<path d="M354.9 283.56 355.9 286.15 356.9 288.71 357.9 291.22 358.9 293.69 359.9 296.13 360.9 298.53 361.9 300.88 362.9 303.20 363.9 305.49 364.9 307.73 365.9 309.94 366.9 312.11 367.9 314.24 368.9 316.34 369.9 318.40 370.9 320.43 371.9 322.42 372.9 324.38 373.9 326.30 374.9 328.19 375.9 330.04 376.9 331.86 377.9 333.65 378.9 335.41 379.9 337.13 380.9 338.82 381.9 340.48 382.9 342.10 383.9 343.70 384.9 345.26 385.9 346.79 386.9 348.30 387.9 349.77 388.9 351.21 389.9 352.62 390.9 354.01 391.9 355.36 392.9 356.69 393.9 357.99 394.9 359.26 395.9 360.51 396.9 361.72 397.9 362.91 398.9 364.08 399.9 365.21 400.9 366.33 401.9 367.41 402.9 368.47 403.9 369.51 404.9 370.52 405.9 371.51 406.9 372.47 407.9 373.41 408.9 374.33 409.9 375.22 410.9 376.09 411.9 376.94 412.9 377.77 413.9 378.57 414.9 379.36 415.9 380.12 416.9 380.86 417.9 381.58 418.9 382.28 419.9 382.97 420.9 383.63 421.9 384.27 422.9 384.90 423.9 385.50 424.9 386.09 425.9 386.66 426.9 387.21 427.9 387.75 428.9 388.27 429.9 388.77 430.9 389.26 431.9 389.73 432.9 390.18 433.9 390.62 434.9 391.05 435.9 391.46 436.9 391.85 437.9 392.23 438.9 392.60 439.9 392.96 440.9 393.30 441.9 393.63 442.9 393.95 443.9 394.25 444.9 394.54 445.9 394.83 446.9 395.10 447.9 395.36 448.9 395.61 449.9 395.85 450.9 396.08 451.9 396.30 452.9 396.51 453.9 396.71 454.9 396.91 455.9 397.09 456.9 397.27 457.9 397.44 458.9 397.61 459.9 397.76 460.9 397.91 461.9 398.05 462.9 398.18 463.9 398.31 464.9 398.42 465.9 398.53 466.9 398.62 467.9 398.71 468.9 398.79 469.9 398.86 470.9 398.92 471.9 398.97 472.9 399.02 473.9 399.05 474.9 399.07 475.9 399.08 476.9 399.08 477.9 399.06 478.9 399.04 479.9 399.01 480.9 398.96 481.9 398.91 482.9 398.84 483.9 398.76 484.9 398.67 485.9 398.56 486.9 398.45 487.9 398.32 488.9 398.18 489.9 398.02 490.9 397.85 491.9 397.67 492.9 397.48 493.9 397.27 494.9 397.05 495.9 396.81 496.9 396.56 497.9 396.30 498.9 396.02 499.9 395.72 500.9 395.41 501.9 395.09 502.9 394.75 503.9 394.40 504.9 394.03 505.9 393.64 506.9 393.24 507.9 392.82 508.9 392.38 509.9 391.93 510.9 391.47 511.9 390.98 512.9 390.48 513.9 389.96 514.9 389.42 515.9 388.87 516.9 388.30 517.9 387.71 518.9 387.10 519.9 386.48 520.9 385.83 521.9 385.17 522.9 384.49 523.9 383.79 524.9 383.07 525.9 382.33 526.9 381.57 527.9 380.79 528.9 379.99 529.9 379.17 530.9 378.34 531.9 377.48 532.9 376.60 533.9 375.70 534.9 374.78 535.9 373.83 536.9 372.87 537.9 371.88 538.9 370.88 539.9 369.85 540.9 368.80 541.9 367.73 542.9 366.63 543.9 365.51 544.9 364.37 545.9 363.21 546.9 362.02 547.9 360.81 548.9 359.58 549.9 358.32 550.9 357.04 551.9 355.74 552.9 354.41 553.9 353.05 554.9 351.68 555.9 350.27 556.9 348.85 557.9 347.39 558.9 345.92 559.9 344.41 560.9 342.88 561.9 341.33 562.9 339.75 563.9 338.14 564.9 336.51 565.9 334.85 566.9 333.17 567.9 331.45 568.9 329.71 569.9 327.95 570.9 326.15 571.9 324.33 572.9 322.48 573.9 320.61 574.9 318.70 575.9 316.77 576.9 314.80 577.9 312.81 578.9 310.79 579.9 308.75 580.9 306.67 581.9 304.56 582.9 302.43 583.9 300.26 584.9 298.06 585.9 295.84 586.9 293.58 587.9 291.30 588.9 288.98 589.9 286.63 590.9 284.25 591.9 281.84 592.9 279.40 593.9 276.93 594.9 274.42 595.2 273.67" stroke="#e8141c"/>
<path d="M354.9 305.50 355.9 307.75 356.9 309.96 357.9 312.13 358.9 314.26 359.9 316.35 360.9 318.41 361.9 320.42 362.9 322.41 363.9 324.35 364.9 326.26 365.9 328.14 366.9 329.98 367.9 331.78 368.9 333.55 369.9 335.29 370.9 337.00 371.9 338.67 372.9 340.30 373.9 341.91 374.9 343.48 375.9 345.02 376.9 346.53 377.9 348.01 378.9 349.46 379.9 350.88 380.9 352.27 381.9 353.63 382.9 354.96 383.9 356.26 384.9 357.54 385.9 358.78 386.9 360.00 387.9 361.19 388.9 362.36 389.9 363.50 390.9 364.61 391.9 365.70 392.9 366.76 393.9 367.79 394.9 368.81 395.9 369.79 396.9 370.76 397.9 371.70 398.9 372.62 399.9 373.51 400.9 374.38 401.9 375.23 402.9 376.06 403.9 376.87 404.9 377.66 405.9 378.43 406.9 379.17 407.9 379.90 408.9 380.61 409.9 381.30 410.9 381.97 411.9 382.62 412.9 383.26 413.9 383.87 414.9 384.47 415.9 385.06 416.9 385.62 417.9 386.17 418.9 386.71 419.9 387.23 420.9 387.73 421.9 388.22 422.9 388.70 423.9 389.16 424.9 389.61 425.9 390.05 426.9 390.47 427.9 390.88 428.9 391.28 429.9 391.67 430.9 392.05 431.9 392.41 432.9 392.76 433.9 393.11 434.9 393.44 435.9 393.76 436.9 394.07 437.9 394.37 438.9 394.66 439.9 394.94 440.9 395.21 441.9 395.47 442.9 395.72 443.9 395.96 444.9 396.19 445.9 396.41 446.9 396.62 447.9 396.82 448.9 397.01 449.9 397.19 450.9 397.36 451.9 397.53 452.9 397.68 453.9 397.83 454.9 397.97 455.9 398.10 456.9 398.22 457.9 398.33 458.9 398.43 459.9 398.53 460.9 398.62 461.9 398.70 462.9 398.77 463.9 398.83 464.9 398.89 465.9 398.94 466.9 398.98 467.9 399.02 468.9 399.04 469.9 399.06 470.9 399.08 471.9 399.08 472.9 399.08 473.9 399.08 474.9 399.06 475.9 399.04 476.9 399.02 477.9 398.98 478.9 398.94 479.9 398.90 480.9 398.85 481.9 398.79 482.9 398.72 483.9 398.65 484.9 398.56 485.9 398.47 486.9 398.38 487.9 398.27 488.9 398.16 489.9 398.03 490.9 397.90 491.9 397.76 492.9 397.61 493.9 397.45 494.9 397.28 495.9 397.10 496.9 396.91 497.9 396.71 498.9 396.50 499.9 396.28 500.9 396.05 501.9 395.81 502.9 395.55 503.9 395.29 504.9 395.01 505.9 394.72 506.9 394.42 507.9 394.11 508.9 393.78 509.9 393.45 510.9 393.09 511.9 392.73 512.9 392.35 513.9 391.96 514.9 391.56 515.9 391.14 516.9 390.70 517.9 390.26 518.9 389.79 519.9 389.32 520.9 388.83 521.9 388.32 522.9 387.80 523.9 387.26 524.9 386.71 525.9 386.14 526.9 385.55 527.9 384.95 528.9 384.33 529.9 383.70 530.9 383.04 531.9 382.37 532.9 381.69 533.9 380.98 534.9 380.26 535.9 379.52 536.9 378.76 537.9 377.99 538.9 377.19 539.9 376.38 540.9 375.55 541.9 374.69 542.9 373.82 543.9 372.93 544.9 372.02 545.9 371.09 546.9 370.14 547.9 369.17 548.9 368.17 549.9 367.16 550.9 366.13 551.9 365.07 552.9 363.99 553.9 362.90 554.9 361.78 555.9 360.63 556.9 359.47 557.9 358.28 558.9 357.07 559.9 355.84 560.9 354.59 561.9 353.31 562.9 352.01 563.9 350.69 564.9 349.34 565.9 347.97 566.9 346.58 567.9 345.16 568.9 343.72 569.9 342.25 570.9 340.76 571.9 339.25 572.9 337.71 573.9 336.15 574.9 334.56 575.9 332.95 576.9 331.31 577.9 329.65 578.9 327.96 579.9 326.25 580.9 324.51 581.9 322.74 582.9 320.95 583.9 319.14 584.9 317.29 585.9 315.42 586.9 313.53 587.9 311.61 588.9 309.66 589.9 307.68 590.9 305.68 591.9 303.65 592.9 301.60 593.9 299.51 594.9 297.40 595.2 296.76" stroke="#1a1ae8"/>
<path d="M354.9 330.83 355.9 332.37 356.9 333.89 357.9 335.38 358.9 336.86 359.9 338.31 360.9 339.73 361.9 341.14 362.9 342.52 363.9 343.89 364.9 345.23 365.9 346.55 366.9 347.84 367.9 349.12 368.9 350.38 369.9 351.61 370.9 352.83 371.9 354.02 372.9 355.20 373.9 356.35 374.9 357.49 375.9 358.60 376.9 359.70 377.9 360.78 378.9 361.83 379.9 362.87 380.9 363.89 381.9 364.89 382.9 365.87 383.9 366.84 384.9 367.78 385.9 368.71 386.9 369.62 387.9 370.51 388.9 371.39 389.9 372.24 390.9 373.08 391.9 373.91 392.9 374.71 393.9 375.50 394.9 376.27 395.9 377.03 396.9 377.77 397.9 378.49 398.9 379.20 399.9 379.89 400.9 380.57 401.9 381.23 402.9 381.88 403.9 382.51 404.9 383.13 405.9 383.73 406.9 384.31 407.9 384.89 408.9 385.44 409.9 385.99 410.9 386.52 411.9 387.04 412.9 387.54 413.9 388.03 414.9 388.50 415.9 388.97 416.9 389.42 417.9 389.85 418.9 390.28 419.9 390.69 420.9 391.09 421.9 391.48 422.9 391.86 423.9 392.22 424.9 392.57 425.9 392.91 426.9 393.24 427.9 393.56 428.9 393.87 429.9 394.17 430.9 394.45 431.9 394.73 432.9 395.00 433.9 395.25 434.9 395.50 435.9 395.73 436.9 395.96 437.9 396.18 438.9 396.38 439.9 396.58 440.9 396.77 441.9 396.95 442.9 397.12 443.9 397.29 444.9 397.44 445.9 397.59 446.9 397.73 447.9 397.86 448.9 397.98 449.9 398.10 450.9 398.21 451.9 398.31 452.9 398.41 453.9 398.49 454.9 398.57 455.9 398.65 456.9 398.72 457.9 398.78 458.9 398.84 459.9 398.89 460.9 398.93 461.9 398.97 462.9 399.00 463.9 399.03 464.9 399.06 465.9 399.07 466.9 399.09 467.9 399.10 468.9 399.10 469.9 399.10 470.9 399.10 471.9 399.09 472.9 399.08 473.9 399.07 474.9 399.05 475.9 399.03 476.9 399.01 477.9 398.98 478.9 398.95 479.9 398.92 480.9 398.88 481.9 398.84 482.9 398.80 483.9 398.75 484.9 398.70 485.9 398.64 486.9 398.58 487.9 398.52 488.9 398.44 489.9 398.37 490.9 398.29 491.9 398.20 492.9 398.11 493.9 398.01 494.9 397.90 495.9 397.79 496.9 397.67 497.9 397.55 498.9 397.42 499.9 397.28 500.9 397.13 501.9 396.97 502.9 396.81 503.9 396.64 504.9 396.46 505.9 396.28 506.9 396.08 507.9 395.88 508.9 395.66 509.9 395.44 510.9 395.21 511.9 394.97 512.9 394.71 513.9 394.45 514.9 394.18 515.9 393.90 516.9 393.61 517.9 393.30 518.9 392.99 519.9 392.66 520.9 392.33 521.9 391.98 522.9 391.62 523.9 391.24 524.9 390.86 525.9 390.46 526.9 390.05 527.9 389.63 528.9 389.19 529.9 388.74 530.9 388.28 531.9 387.80 532.9 387.31 533.9 386.81 534.9 386.29 535.9 385.76 536.9 385.21 537.9 384.65 538.9 384.07 539.9 383.48 540.9 382.87 541.9 382.25 542.9 381.61 543.9 380.96 544.9 380.29 545.9 379.60 546.9 378.89 547.9 378.17 548.9 377.44 549.9 376.68 550.9 375.91 551.9 375.12 552.9 374.31 553.9 373.48 554.9 372.64 555.9 371.78 556.9 370.90 557.9 370.00 558.9 369.08 559.9 368.14 560.9 367.18 561.9 366.20 562.9 365.21 563.9 364.19 564.9 363.15 565.9 362.09 566.9 361.02 567.9 359.92 568.9 358.80 569.9 357.65 570.9 356.49 571.9 355.31 572.9 354.10 573.9 352.87 574.9 351.62 575.9 350.35 576.9 349.06 577.9 347.74 578.9 346.40 579.9 345.03 580.9 343.64 581.9 342.23 582.9 340.80 583.9 339.34 584.9 337.86 585.9 336.35 586.9 334.82 587.9 333.26 588.9 331.68 589.9 330.07 590.9 328.44 591.9 326.78 592.9 325.10 593.9 323.39 594.9 321.65 595.2 321.12" stroke="#f010f0"/>
<path d="M354.9 352.29 355.9 353.61 356.9 354.90 357.9 356.16 358.9 357.40 359.9 358.62 360.9 359.81 361.9 360.98 362.9 362.13 363.9 363.26 364.9 364.36 365.9 365.44 366.9 366.50 367.9 367.54 368.9 368.55 369.9 369.55 370.9 370.52 371.9 371.47 372.9 372.40 373.9 373.31 374.9 374.20 375.9 375.07 376.9 375.92 377.9 376.75 378.9 377.56 379.9 378.35 380.9 379.13 381.9 379.88 382.9 380.62 383.9 381.33 384.9 382.03 385.9 382.71 386.9 383.38 387.9 384.02 388.9 384.65 389.9 385.27 390.9 385.86 391.9 386.44 392.9 387.00 393.9 387.55 394.9 388.08 395.9 388.60 396.9 389.10 397.9 389.58 398.9 390.05 399.9 390.51 400.9 390.95 401.9 391.37 402.9 391.79 403.9 392.18 404.9 392.57 405.9 392.94 406.9 393.30 407.9 393.64 408.9 393.98 409.9 394.30 410.9 394.60 411.9 394.90 412.9 395.18 413.9 395.46 414.9 395.72 415.9 395.97 416.9 396.20 417.9 396.43 418.9 396.65 419.9 396.86 420.9 397.05 421.9 397.24 422.9 397.42 423.9 397.59 424.9 397.75 425.9 397.90 426.9 398.04 427.9 398.17 428.9 398.30 429.9 398.41 430.9 398.52 431.9 398.62 432.9 398.72 433.9 398.80 434.9 398.88 435.9 398.96 436.9 399.02 437.9 399.08 438.9 399.14 439.9 399.19 440.9 399.23 441.9 399.27 442.9 399.30 443.9 399.33 444.9 399.35 445.9 399.37 446.9 399.38 447.9 399.39 448.9 399.40 449.9 399.40 450.9 399.40 451.9 399.39 452.9 399.39 453.9 399.38 454.9 399.37 455.9 399.35 456.9 399.33 457.9 399.32 458.9 399.30 459.9 399.27 460.9 399.25 461.9 399.23 462.9 399.20 463.9 399.18 464.9 399.15 465.9 399.13 466.9 399.10 467.9 399.08 468.9 399.06 469.9 399.03 470.9 399.01 471.9 398.99 472.9 398.97 473.9 398.95 474.9 398.94 475.9 398.93 476.9 398.92 477.9 398.91 478.9 398.90 479.9 398.90 480.9 398.90 481.9 398.90 482.9 398.90 483.9 398.90 484.9 398.90 485.9 398.90 486.9 398.91 487.9 398.91 488.9 398.91 489.9 398.92 490.9 398.92 491.9 398.92 492.9 398.92 493.9 398.91 494.9 398.91 495.9 398.90 496.9 398.89 497.9 398.88 498.9 398.87 499.9 398.85 500.9 398.82 501.9 398.80 502.9 398.77 503.9 398.73 504.9 398.69 505.9 398.65 506.9 398.60 507.9 398.54 508.9 398.48 509.9 398.41 510.9 398.34 511.9 398.26 512.9 398.17 513.9 398.08 514.9 397.97 515.9 397.86 516.9 397.75 517.9 397.62 518.9 397.48 519.9 397.34 520.9 397.19 521.9 397.02 522.9 396.85 523.9 396.67 524.9 396.48 525.9 396.28 526.9 396.06 527.9 395.84 528.9 395.60 529.9 395.35 530.9 395.09 531.9 394.82 532.9 394.54 533.9 394.24 534.9 393.93 535.9 393.61 536.9 393.27 537.9 392.92 538.9 392.56 539.9 392.18 540.9 391.79 541.9 391.38 542.9 390.96 543.9 390.52 544.9 390.06 545.9 389.59 546.9 389.11 547.9 388.60 548.9 388.08 549.9 387.54 550.9 386.99 551.9 386.42 552.9 385.83 553.9 385.22 554.9 384.59 555.9 383.95 556.9 383.28 557.9 382.60 558.9 381.89 559.9 381.17 560.9 380.43 561.9 379.67 562.9 378.88 563.9 378.08 564.9 377.26 565.9 376.42 566.9 375.56 567.9 374.68 568.9 373.78 569.9 372.86 570.9 371.92 571.9 370.96 572.9 369.98 573.9 368.98 574.9 367.96 575.9 366.92 576.9 365.87 577.9 364.79 578.9 363.69 579.9 362.57 580.9 361.44 581.9 360.28 582.9 359.10 583.9 357.91 584.9 356.69 585.9 355.46 586.9 354.20 587.9 352.93 588.9 351.63 589.9 350.32 590.9 348.98 591.9 347.63 592.9 346.26 593.9 344.86 594.8 343.59" stroke="#1a8a1a"/>
<path d="M354.9 374.45 355.9 375.33 356.9 376.20 357.9 377.05 358.9 377.88 359.9 378.70 360.9 379.50 361.9 380.28 362.9 381.05 363.9 381.81 364.9 382.55 365.9 383.27 366.9 383.98 367.9 384.67 368.9 385.35 369.9 386.01 370.9 386.66 371.9 387.29 372.9 387.91 373.9 388.52 374.9 389.11 375.9 389.68 376.9 390.24 377.9 390.79 378.9 391.32 379.9 391.84 380.9 392.35 381.9 392.84 382.9 393.32 383.9 393.78 384.9 394.23 385.9 394.67 386.9 395.09 387.9 395.50 388.9 395.90 389.9 396.28 390.9 396.66 391.9 397.02 392.9 397.36 393.9 397.70 394.9 398.02 395.9 398.33 396.9 398.62 397.9 398.91 398.9 399.18 399.9 399.44 400.9 399.69 401.9 399.93 402.9 400.15 403.9 400.36 404.9 400.57 405.9 400.76 406.9 400.94 407.9 401.10 408.9 401.26 409.9 401.41 410.9 401.54 411.9 401.67 412.9 401.78 413.9 401.88 414.9 401.98 415.9 402.06 416.9 402.13 417.9 402.19 418.9 402.25 419.9 402.29 420.9 402.32 421.9 402.34 422.9 402.35 423.9 402.36 424.9 402.35 425.9 402.34 426.9 402.32 427.9 402.29 428.9 402.26 429.9 402.22 430.9 402.17 431.9 402.12 432.9 402.06 433.9 402.00 434.9 401.93 435.9 401.86 436.9 401.78 437.9 401.70 438.9 401.62 439.9 401.53 440.9 401.44 441.9 401.35 442.9 401.26 443.9 401.16 444.9 401.07 445.9 400.97 446.9 400.87 447.9 400.78 448.9 400.68 449.9 400.58 450.9 400.49 451.9 400.40 452.9 400.31 453.9 400.22 454.9 400.13 455.9 400.05 456.9 399.97 457.9 399.89 458.9 399.82 459.9 399.75 460.9 399.69 461.9 399.63 462.9 399.57 463.9 399.52 464.9 399.47 465.9 399.42 466.9 399.38 467.9 399.34 468.9 399.31 469.9 399.28 470.9 399.25 471.9 399.22 472.9 399.20 473.9 399.19 474.9 399.17 475.9 399.16 476.9 399.15 477.9 399.15 478.9 399.15 479.9 399.15 480.9 399.16 481.9 399.17 482.9 399.18 483.9 399.20 484.9 399.21 485.9 399.24 486.9 399.26 487.9 399.29 488.9 399.32 489.9 399.35 490.9 399.39 491.9 399.43 492.9 399.47 493.9 399.51 494.9 399.55 495.9 399.60 496.9 399.64 497.9 399.69 498.9 399.74 499.9 399.78 500.9 399.83 501.9 399.88 502.9 399.92 503.9 399.97 504.9 400.01 505.9 400.06 506.9 400.10 507.9 400.14 508.9 400.18 509.9 400.21 510.9 400.24 511.9 400.27 512.9 400.30 513.9 400.32 514.9 400.34 515.9 400.36 516.9 400.37 517.9 400.38 518.9 400.38 519.9 400.38 520.9 400.37 521.9 400.36 522.9 400.34 523.9 400.31 524.9 400.28 525.9 400.25 526.9 400.20 527.9 400.15 528.9 400.10 529.9 400.03 530.9 399.96 531.9 399.88 532.9 399.79 533.9 399.69 534.9 399.58 535.9 399.47 536.9 399.34 537.9 399.21 538.9 399.07 539.9 398.91 540.9 398.75 541.9 398.57 542.9 398.39 543.9 398.19 544.9 397.98 545.9 397.77 546.9 397.53 547.9 397.29 548.9 397.04 549.9 396.77 550.9 396.49 551.9 396.19 552.9 395.89 553.9 395.57 554.9 395.23 555.9 394.88 556.9 394.52 557.9 394.14 558.9 393.75 559.9 393.34 560.9 392.92 561.9 392.48 562.9 392.03 563.9 391.56 564.9 391.07 565.9 390.57 566.9 390.05 567.9 389.51 568.9 388.96 569.9 388.38 570.9 387.79 571.9 387.19 572.9 386.56 573.9 385.92 574.9 385.26 575.9 384.58 576.9 383.88 577.9 383.16 578.9 382.43 579.9 381.68 580.9 380.90 581.9 380.11 582.9 379.30 583.9 378.47 584.9 377.62 585.9 376.75 586.9 375.85 587.9 374.94 588.9 374.01 589.9 373.06 590.9 372.09 591.9 371.10 592.9 370.08 593.9 369.05 594.9 367.99 595.0 367.89" stroke="#10107a"/>
<path d="M354.9 385.70 355.9 386.40 356.9 387.09 357.9 387.76 358.9 388.41 359.9 389.06 360.9 389.68 361.9 390.30 362.9 390.90 363.9 391.49 364.9 392.06 365.9 392.62 366.9 393.16 367.9 393.70 368.9 394.22 369.9 394.72 370.9 395.21 371.9 395.69 372.9 396.16 373.9 396.61 374.9 397.05 375.9 397.48 376.9 397.89 377.9 398.30 378.9 398.69 379.9 399.06 380.9 399.43 381.9 399.78 382.9 400.12 383.9 400.45 384.9 400.77 385.9 401.07 386.9 401.36 387.9 401.65 388.9 401.92 389.9 402.17 390.9 402.42 391.9 402.65 392.9 402.88 393.9 403.09 394.9 403.29 395.9 403.48 396.9 403.66 397.9 403.83 398.9 403.99 399.9 404.13 400.9 404.27 401.9 404.40 402.9 404.51 403.9 404.62 404.9 404.71 405.9 404.80 406.9 404.87 407.9 404.93 408.9 404.99 409.9 405.03 410.9 405.07 411.9 405.09 412.9 405.11 413.9 405.12 414.9 405.11 415.9 405.10 416.9 405.08 417.9 405.05 418.9 405.01 419.9 404.96 420.9 404.90 421.9 404.84 422.9 404.76 423.9 404.68 424.9 404.59 425.9 404.50 426.9 404.39 427.9 404.28 428.9 404.17 429.9 404.05 430.9 403.93 431.9 403.80 432.9 403.66 433.9 403.53 434.9 403.39 435.9 403.24 436.9 403.10 437.9 402.95 438.9 402.80 439.9 402.65 440.9 402.50 441.9 402.35 442.9 402.19 443.9 402.04 444.9 401.89 445.9 401.74 446.9 401.59 447.9 401.44 448.9 401.30 449.9 401.15 450.9 401.02 451.9 400.88 452.9 400.75 453.9 400.62 454.9 400.50 455.9 400.38 456.9 400.27 457.9 400.16 458.9 400.06 459.9 399.96 460.9 399.88 461.9 399.79 462.9 399.72 463.9 399.65 464.9 399.58 465.9 399.52 466.9 399.47 467.9 399.42 468.9 399.38 469.9 399.34 470.9 399.31 471.9 399.28 472.9 399.26 473.9 399.25 474.9 399.24 475.9 399.23 476.9 399.23 477.9 399.24 478.9 399.25 479.9 399.27 480.9 399.29 481.9 399.32 482.9 399.35 483.9 399.39 484.9 399.43 485.9 399.48 486.9 399.53 487.9 399.59 488.9 399.65 489.9 399.72 490.9 399.79 491.9 399.87 492.9 399.95 493.9 400.03 494.9 400.12 495.9 400.21 496.9 400.30 497.9 400.39 498.9 400.49 499.9 400.59 500.9 400.69 501.9 400.79 502.9 400.89 503.9 401.00 504.9 401.10 505.9 401.20 506.9 401.31 507.9 401.41 508.9 401.52 509.9 401.62 510.9 401.72 511.9 401.82 512.9 401.92 513.9 402.02 514.9 402.11 515.9 402.20 516.9 402.29 517.9 402.38 518.9 402.46 519.9 402.54 520.9 402.62 521.9 402.69 522.9 402.76 523.9 402.82 524.9 402.88 525.9 402.93 526.9 402.98 527.9 403.02 528.9 403.06 529.9 403.09 530.9 403.11 531.9 403.13 532.9 403.14 533.9 403.14 534.9 403.13 535.9 403.12 536.9 403.10 537.9 403.07 538.9 403.03 539.9 402.98 540.9 402.92 541.9 402.86 542.9 402.78 543.9 402.69 544.9 402.60 545.9 402.49 546.9 402.37 547.9 402.24 548.9 402.10 549.9 401.95 550.9 401.79 551.9 401.61 552.9 401.42 553.9 401.22 554.9 401.00 555.9 400.78 556.9 400.53 557.9 400.28 558.9 400.01 559.9 399.72 560.9 399.43 561.9 399.11 562.9 398.78 563.9 398.44 564.9 398.08 565.9 397.70 566.9 397.31 567.9 396.90 568.9 396.47 569.9 396.03 570.9 395.57 571.9 395.10 572.9 394.61 573.9 394.10 574.9 393.57 575.9 393.03 576.9 392.48 577.9 391.90 578.9 391.31 579.9 390.70 580.9 390.08 581.9 389.44 582.9 388.78 583.9 388.10 584.9 387.41 585.9 386.70 586.9 385.98 587.9 385.24 588.9 384.48 589.9 383.70 590.9 382.91 591.9 382.10 592.9 381.27 593.9 380.43 594.9 379.57 595.0 379.48" stroke="#8010f0"/>
<path d="M354.9 396.66 355.9 397.32 356.9 397.95 357.9 398.57 358.9 399.16 359.9 399.73 360.9 400.29 361.9 400.82 362.9 401.34 363.9 401.84 364.9 402.31 365.9 402.77 366.9 403.21 367.9 403.64 368.9 404.04 369.9 404.43 370.9 404.80 371.9 405.15 372.9 405.49 373.9 405.81 374.9 406.12 375.9 406.41 376.9 406.68 377.9 406.94 378.9 407.18 379.9 407.40 380.9 407.62 381.9 407.82 382.9 408.00 383.9 408.17 384.9 408.33 385.9 408.47 386.9 408.60 387.9 408.72 388.9 408.82 389.9 408.92 390.9 409.00 391.9 409.07 392.9 409.12 393.9 409.17 394.9 409.20 395.9 409.23 396.9 409.24 397.9 409.25 398.9 409.24 399.9 409.22 400.9 409.20 401.9 409.16 402.9 409.12 403.9 409.07 404.9 409.01 405.9 408.94 406.9 408.86 407.9 408.78 408.9 408.69 409.9 408.59 410.9 408.48 411.9 408.37 412.9 408.25 413.9 408.13 414.9 407.99 415.9 407.86 416.9 407.72 417.9 407.57 418.9 407.42 419.9 407.26 420.9 407.10 421.9 406.94 422.9 406.77 423.9 406.60 424.9 406.43 425.9 406.25 426.9 406.07 427.9 405.88 428.9 405.70 429.9 405.51 430.9 405.32 431.9 405.13 432.9 404.94 433.9 404.75 434.9 404.56 435.9 404.37 436.9 404.17 437.9 403.98 438.9 403.79 439.9 403.60 440.9 403.40 441.9 403.21 442.9 403.03 443.9 402.84 444.9 402.65 445.9 402.47 446.9 402.29 447.9 402.11 448.9 401.94 449.9 401.77 450.9 401.60 451.9 401.44 452.9 401.28 453.9 401.12 454.9 400.97 455.9 400.82 456.9 400.68 457.9 400.55 458.9 400.42 459.9 400.29 460.9 400.17 461.9 400.06 462.9 399.95 463.9 399.85 464.9 399.76 465.9 399.67 466.9 399.60 467.9 399.52 468.9 399.46 469.9 399.40 470.9 399.36 471.9 399.32 472.9 399.28 473.9 399.26 474.9 399.25 475.9 399.24 476.9 399.24 477.9 399.26 478.9 399.28 479.9 399.31 480.9 399.35 481.9 399.40 482.9 399.45 483.9 399.52 484.9 399.59 485.9 399.67 486.9 399.76 487.9 399.85 488.9 399.95 489.9 400.05 490.9 400.17 491.9 400.28 492.9 400.41 493.9 400.54 494.9 400.67 495.9 400.81 496.9 400.95 497.9 401.10 498.9 401.25 499.9 401.41 500.9 401.57 501.9 401.73 502.9 401.90 503.9 402.07 504.9 402.24 505.9 402.41 506.9 402.58 507.9 402.76 508.9 402.94 509.9 403.11 510.9 403.29 511.9 403.47 512.9 403.64 513.9 403.82 514.9 403.99 515.9 404.16 516.9 404.33 517.9 404.50 518.9 404.66 519.9 404.83 520.9 404.98 521.9 405.14 522.9 405.29 523.9 405.43 524.9 405.58 525.9 405.71 526.9 405.84 527.9 405.97 528.9 406.09 529.9 406.20 530.9 406.30 531.9 406.40 532.9 406.49 533.9 406.57 534.9 406.65 535.9 406.71 536.9 406.77 537.9 406.82 538.9 406.85 539.9 406.88 540.9 406.90 541.9 406.90 542.9 406.90 543.9 406.88 544.9 406.86 545.9 406.82 546.9 406.78 547.9 406.72 548.9 406.65 549.9 406.57 550.9 406.48 551.9 406.38 552.9 406.27 553.9 406.15 554.9 406.02 555.9 405.87 556.9 405.72 557.9 405.55 558.9 405.38 559.9 405.19 560.9 404.99 561.9 404.78 562.9 404.56 563.9 404.33 564.9 404.09 565.9 403.83 566.9 403.57 567.9 403.29 568.9 403.00 569.9 402.70 570.9 402.39 571.9 402.07 572.9 401.74 573.9 401.39 574.9 401.03 575.9 400.67 576.9 400.29 577.9 399.89 578.9 399.49 579.9 399.08 580.9 398.65 581.9 398.21 582.9 397.76 583.9 397.30 584.9 396.83 585.9 396.34 586.9 395.84 587.9 395.33 588.9 394.81 589.9 394.28 590.9 393.73 591.9 393.17 592.9 392.60 593.9 392.02 594.9 391.43 595.0 391.37" stroke="#801a80"/>
</g>
<line x1="172" y1="11.8" x2="172" y2="196.2" stroke="#686868" stroke-width="1.3"/>
<rect x="44" y="11.8" width="264" height="184.4" fill="none" stroke="#666" stroke-width="1.3"/>
<path d="M47.8 196.2v-3.6M56.08 196.2v-1.8M64.36 196.2v-1.8M72.64 196.2v-1.8M80.92 196.2v-1.8M89.2 196.2v-3.6M97.48 196.2v-1.8M105.76 196.2v-1.8M114.04 196.2v-1.8M122.32 196.2v-1.8M130.6 196.2v-3.6M138.88 196.2v-1.8M147.16 196.2v-1.8M155.44 196.2v-1.8M163.72 196.2v-1.8M172 196.2v-3.6M180.28 196.2v-1.8M188.56 196.2v-1.8M196.84 196.2v-1.8M205.12 196.2v-1.8M213.4 196.2v-3.6M221.68 196.2v-1.8M229.96 196.2v-1.8M238.24 196.2v-1.8M246.52 196.2v-1.8M254.8 196.2v-3.6M263.08 196.2v-1.8M271.36 196.2v-1.8M279.64 196.2v-1.8M287.92 196.2v-1.8M296.2 196.2v-3.6M304.48 196.2v-1.8M44 185.96h1.8M44 175.71h3.6M44 165.47h1.8M44 155.22h1.8M44 144.98h1.8M44 134.73h3.6M44 124.49h1.8M44 114.24h1.8M44 104h1.8M44 93.76h3.6M44 83.51h1.8M44 73.27h1.8M44 63.02h1.8M44 52.78h3.6M44 42.53h1.8M44 32.29h1.8M44 22.04h1.8" stroke="#111" stroke-width="1.1" fill="none"/>
<text x="47.8" y="208.8" class="tl" text-anchor="middle">-1.5</text>
<text x="89.2" y="208.8" class="tl" text-anchor="middle">-1.0</text>
<text x="130.6" y="208.8" class="tl" text-anchor="middle">-0.5</text>
<text x="172" y="208.8" class="tl" text-anchor="middle">0.0</text>
<text x="213.4" y="208.8" class="tl" text-anchor="middle">0.5</text>
<text x="254.8" y="208.8" class="tl" text-anchor="middle">1.0</text>
<text x="296.2" y="208.8" class="tl" text-anchor="middle">1.5</text>
<text x="40" y="178.81" class="tl" text-anchor="end">20</text>
<text x="40" y="137.83" class="tl" text-anchor="end">40</text>
<text x="40" y="96.86" class="tl" text-anchor="end">60</text>
<text x="40" y="55.88" class="tl" text-anchor="end">80</text>
<text x="40" y="14.9" class="tl" text-anchor="end">100</text>
<line x1="478.8" y1="11.6" x2="478.8" y2="195.6" stroke="#686868" stroke-width="1.3"/>
<rect x="350.7" y="11.6" width="264" height="184" fill="none" stroke="#666" stroke-width="1.3"/>
<path d="M354.75 195.6v-3.6M363.02 195.6v-1.8M371.29 195.6v-1.8M379.56 195.6v-1.8M387.83 195.6v-1.8M396.1 195.6v-3.6M404.37 195.6v-1.8M412.64 195.6v-1.8M420.91 195.6v-1.8M429.18 195.6v-1.8M437.45 195.6v-3.6M445.72 195.6v-1.8M453.99 195.6v-1.8M462.26 195.6v-1.8M470.53 195.6v-1.8M478.8 195.6v-3.6M487.07 195.6v-1.8M495.34 195.6v-1.8M503.61 195.6v-1.8M511.88 195.6v-1.8M520.15 195.6v-3.6M528.42 195.6v-1.8M536.69 195.6v-1.8M544.96 195.6v-1.8M553.23 195.6v-1.8M561.5 195.6v-3.6M569.77 195.6v-1.8M578.04 195.6v-1.8M586.31 195.6v-1.8M594.58 195.6v-1.8M602.85 195.6v-3.6M611.12 195.6v-1.8M350.7 192.77h1.8M350.7 187.11h1.8M350.7 181.45h3.6M350.7 175.78h1.8M350.7 170.12h1.8M350.7 164.46h1.8M350.7 158.8h1.8M350.7 153.14h3.6M350.7 147.48h1.8M350.7 141.82h1.8M350.7 136.15h1.8M350.7 130.49h1.8M350.7 124.83h3.6M350.7 119.17h1.8M350.7 113.51h1.8M350.7 107.85h1.8M350.7 102.18h1.8M350.7 96.52h3.6M350.7 90.86h1.8M350.7 85.2h1.8M350.7 79.54h1.8M350.7 73.88h1.8M350.7 68.22h3.6M350.7 62.55h1.8M350.7 56.89h1.8M350.7 51.23h1.8M350.7 45.57h1.8M350.7 39.91h3.6M350.7 34.25h1.8M350.7 28.58h1.8M350.7 22.92h1.8M350.7 17.26h1.8" stroke="#111" stroke-width="1.1" fill="none"/>
<text x="354.75" y="208.2" class="tl" text-anchor="middle">-1.5</text>
<text x="396.1" y="208.2" class="tl" text-anchor="middle">-1.0</text>
<text x="437.45" y="208.2" class="tl" text-anchor="middle">-0.5</text>
<text x="478.8" y="208.2" class="tl" text-anchor="middle">0.0</text>
<text x="520.15" y="208.2" class="tl" text-anchor="middle">0.5</text>
<text x="561.5" y="208.2" class="tl" text-anchor="middle">1.0</text>
<text x="602.85" y="208.2" class="tl" text-anchor="middle">1.5</text>
<text x="347.1" y="184.55" class="tl" text-anchor="end">20</text>
<text x="347.1" y="156.24" class="tl" text-anchor="end">30</text>
<text x="347.1" y="127.93" class="tl" text-anchor="end">40</text>
<text x="347.1" y="99.62" class="tl" text-anchor="end">50</text>
<text x="347.1" y="71.32" class="tl" text-anchor="end">60</text>
<text x="347.1" y="43.01" class="tl" text-anchor="end">70</text>
<text x="347.1" y="14.7" class="tl" text-anchor="end">80</text>
<line x1="165.15" y1="236.2" x2="165.15" y2="421.8" stroke="#686868" stroke-width="1.3"/>
<rect x="42.3" y="236.2" width="265.4" height="185.6" fill="none" stroke="#666" stroke-width="1.3"/>
<path d="M46.5 421.8v-3.6M54.41 421.8v-1.8M62.32 421.8v-1.8M70.23 421.8v-1.8M78.14 421.8v-1.8M86.05 421.8v-3.6M93.96 421.8v-1.8M101.87 421.8v-1.8M109.78 421.8v-1.8M117.69 421.8v-1.8M125.6 421.8v-3.6M133.51 421.8v-1.8M141.42 421.8v-1.8M149.33 421.8v-1.8M157.24 421.8v-1.8M165.15 421.8v-3.6M173.06 421.8v-1.8M180.97 421.8v-1.8M188.88 421.8v-1.8M196.79 421.8v-1.8M204.7 421.8v-3.6M212.61 421.8v-1.8M220.52 421.8v-1.8M228.43 421.8v-1.8M236.34 421.8v-1.8M244.25 421.8v-3.6M252.16 421.8v-1.8M260.07 421.8v-1.8M267.98 421.8v-1.8M275.89 421.8v-1.8M283.8 421.8v-3.6M291.71 421.8v-1.8M299.62 421.8v-1.8M42.3 416.5h1.8M42.3 411.19h1.8M42.3 405.89h1.8M42.3 400.59h1.8M42.3 395.29h3.6M42.3 389.98h1.8M42.3 384.68h1.8M42.3 379.38h1.8M42.3 374.07h1.8M42.3 368.77h3.6M42.3 363.47h1.8M42.3 358.17h1.8M42.3 352.86h1.8M42.3 347.56h1.8M42.3 342.26h3.6M42.3 336.95h1.8M42.3 331.65h1.8M42.3 326.35h1.8M42.3 321.05h1.8M42.3 315.74h3.6M42.3 310.44h1.8M42.3 305.14h1.8M42.3 299.83h1.8M42.3 294.53h1.8M42.3 289.23h3.6M42.3 283.93h1.8M42.3 278.62h1.8M42.3 273.32h1.8M42.3 268.02h1.8M42.3 262.71h3.6M42.3 257.41h1.8M42.3 252.11h1.8M42.3 246.81h1.8M42.3 241.5h1.8" stroke="#111" stroke-width="1.1" fill="none"/>
<text x="46.5" y="434.4" class="tl" text-anchor="middle">-1.5</text>
<text x="86.05" y="434.4" class="tl" text-anchor="middle">-1.0</text>
<text x="125.6" y="434.4" class="tl" text-anchor="middle">-0.5</text>
<text x="165.15" y="434.4" class="tl" text-anchor="middle">0.0</text>
<text x="204.7" y="434.4" class="tl" text-anchor="middle">0.5</text>
<text x="244.25" y="434.4" class="tl" text-anchor="middle">1.0</text>
<text x="283.8" y="434.4" class="tl" text-anchor="middle">1.5</text>
<text x="38" y="424.9" class="tl" text-anchor="end">35</text>
<text x="38" y="398.39" class="tl" text-anchor="end">40</text>
<text x="38" y="371.87" class="tl" text-anchor="end">45</text>
<text x="38" y="345.36" class="tl" text-anchor="end">50</text>
<text x="38" y="318.84" class="tl" text-anchor="end">55</text>
<text x="38" y="292.33" class="tl" text-anchor="end">60</text>
<text x="38" y="265.81" class="tl" text-anchor="end">65</text>
<text x="38" y="239.3" class="tl" text-anchor="end">70</text>
<line x1="477" y1="235.7" x2="477" y2="419.8" stroke="#686868" stroke-width="1.3"/>
<rect x="351.3" y="235.7" width="263.7" height="184.1" fill="none" stroke="#666" stroke-width="1.3"/>
<path d="M355.05 419.8v-3.6M363.18 419.8v-1.8M371.31 419.8v-1.8M379.44 419.8v-1.8M387.57 419.8v-1.8M395.7 419.8v-3.6M403.83 419.8v-1.8M411.96 419.8v-1.8M420.09 419.8v-1.8M428.22 419.8v-1.8M436.35 419.8v-3.6M444.48 419.8v-1.8M452.61 419.8v-1.8M460.74 419.8v-1.8M468.87 419.8v-1.8M477 419.8v-3.6M485.13 419.8v-1.8M493.26 419.8v-1.8M501.39 419.8v-1.8M509.52 419.8v-1.8M517.65 419.8v-3.6M525.78 419.8v-1.8M533.91 419.8v-1.8M542.04 419.8v-1.8M550.17 419.8v-1.8M558.3 419.8v-3.6M566.43 419.8v-1.8M574.56 419.8v-1.8M582.69 419.8v-1.8M590.82 419.8v-1.8M598.95 419.8v-3.6M607.08 419.8v-1.8M351.3 407.53h3.6M351.3 395.25h1.8M351.3 382.98h3.6M351.3 370.71h1.8M351.3 358.43h3.6M351.3 346.16h1.8M351.3 333.89h3.6M351.3 321.61h1.8M351.3 309.34h3.6M351.3 297.07h1.8M351.3 284.79h3.6M351.3 272.52h1.8M351.3 260.25h3.6M351.3 247.97h1.8" stroke="#111" stroke-width="1.1" fill="none"/>
<text x="355.05" y="432.4" class="tl" text-anchor="middle">-1.5</text>
<text x="395.7" y="432.4" class="tl" text-anchor="middle">-1.0</text>
<text x="436.35" y="432.4" class="tl" text-anchor="middle">-0.5</text>
<text x="477" y="432.4" class="tl" text-anchor="middle">0.0</text>
<text x="517.65" y="432.4" class="tl" text-anchor="middle">0.5</text>
<text x="558.3" y="432.4" class="tl" text-anchor="middle">1.0</text>
<text x="598.95" y="432.4" class="tl" text-anchor="middle">1.5</text>
<text x="346.5" y="410.63" class="tl" text-anchor="end">40</text>
<text x="346.5" y="386.08" class="tl" text-anchor="end">60</text>
<text x="346.5" y="361.53" class="tl" text-anchor="end">80</text>
<text x="346.5" y="336.99" class="tl" text-anchor="end">100</text>
<text x="346.5" y="312.44" class="tl" text-anchor="end">120</text>
<text x="346.5" y="287.89" class="tl" text-anchor="end">140</text>
<text x="346.5" y="263.35" class="tl" text-anchor="end">160</text>
<text x="346.5" y="238.8" class="tl" text-anchor="end">180</text>
<text x="273.8" y="21.3" class="cl">2.98</text>
<text x="282" y="45.8" class="cl">3.03</text>
<text x="282" y="61.7" class="cl">3.09</text>
<text x="281.5" y="117" class="cl">3.14</text>
<text x="281.5" y="156.9" class="cl">3.24</text>
<text x="281.5" y="189" class="cl">3.34</text>
<text x="603.6" y="21" class="cl">7</text>
<text x="603.6" y="33.1" class="cl">6</text>
<text x="603.6" y="45.3" class="cl">5</text>
<text x="603.6" y="61.1" class="cl">4</text>
<text x="603.6" y="80.5" class="cl">3</text>
<text x="603.6" y="103.7" class="cl">2</text>
<text x="603.6" y="132" class="cl">1</text>
<text x="282.6" y="247.7" class="cl">200</text>
<text x="283.3" y="284.3" class="cl">150</text>
<text x="283.3" y="328.3" class="cl">100</text>
<text x="286.2" y="355.2" class="cl">50</text>
<text x="601.9" y="255.4" class="cl">1</text>
<text x="601.5" y="277.4" class="cl">2</text>
<text x="601.5" y="298.4" class="cl">3</text>
<text x="601.5" y="324.8" class="cl">4</text>
<text x="601.4" y="345.3" class="cl">5</text>
<text x="601.4" y="370.2" class="cl">6</text>
<text x="595.9" y="383.4" class="cl">6.5</text>
<text x="601.4" y="396.6" class="cl">7</text>
<text x="0.4" y="14.2" class="pl" textLength="20.4" lengthAdjust="spacingAndGlyphs">(a)</text>
<text x="308.6" y="14.2" class="pl" textLength="22" lengthAdjust="spacingAndGlyphs">(b)</text>
<text x="0.2" y="231.8" class="pl" textLength="19.2" lengthAdjust="spacingAndGlyphs" font-weight="bold" style="stroke-width:0.2px">(c)</text>
<text x="309" y="232.8" class="pl" textLength="21.9" lengthAdjust="spacingAndGlyphs">(d)</text>
<text transform="translate(13 101.4) rotate(-90)" class="aty" text-anchor="middle">-F<tspan class="sub" dy="5">adh</tspan><tspan dy="-5">, nN</tspan></text>
<text transform="translate(321.2 98.6) rotate(-90)" class="aty" text-anchor="middle">-F<tspan class="sub" dy="5">adh</tspan><tspan dy="-5">, nN</tspan></text>
<text transform="translate(13 324.2) rotate(-90)" class="aty" text-anchor="middle">-F<tspan class="sub" dy="5">adh</tspan><tspan dy="-5">, nN</tspan></text>
<text transform="translate(321.2 322.7) rotate(-90)" class="aty" text-anchor="middle">-F<tspan class="sub" dy="5">adh</tspan><tspan dy="-5">, nN</tspan></text>
<text x="155.5" y="222.2" class="atx">V<tspan class="subx" dy="5.2">app</tspan><tspan dy="-5.2">, V</tspan></text>
<text x="458.8" y="222.2" class="atx">V<tspan class="subx" dy="5.2">app</tspan><tspan dy="-5.2">, V</tspan></text>
<text x="146.7" y="446.7" class="atx">V<tspan class="subx" dy="5.2">app</tspan><tspan dy="-5.2">, V</tspan></text>
<text x="460.6" y="446.7" class="atx">V<tspan class="subx" dy="5.2">app</tspan><tspan dy="-5.2">, V</tspan></text>
</svg>
</body></html>
